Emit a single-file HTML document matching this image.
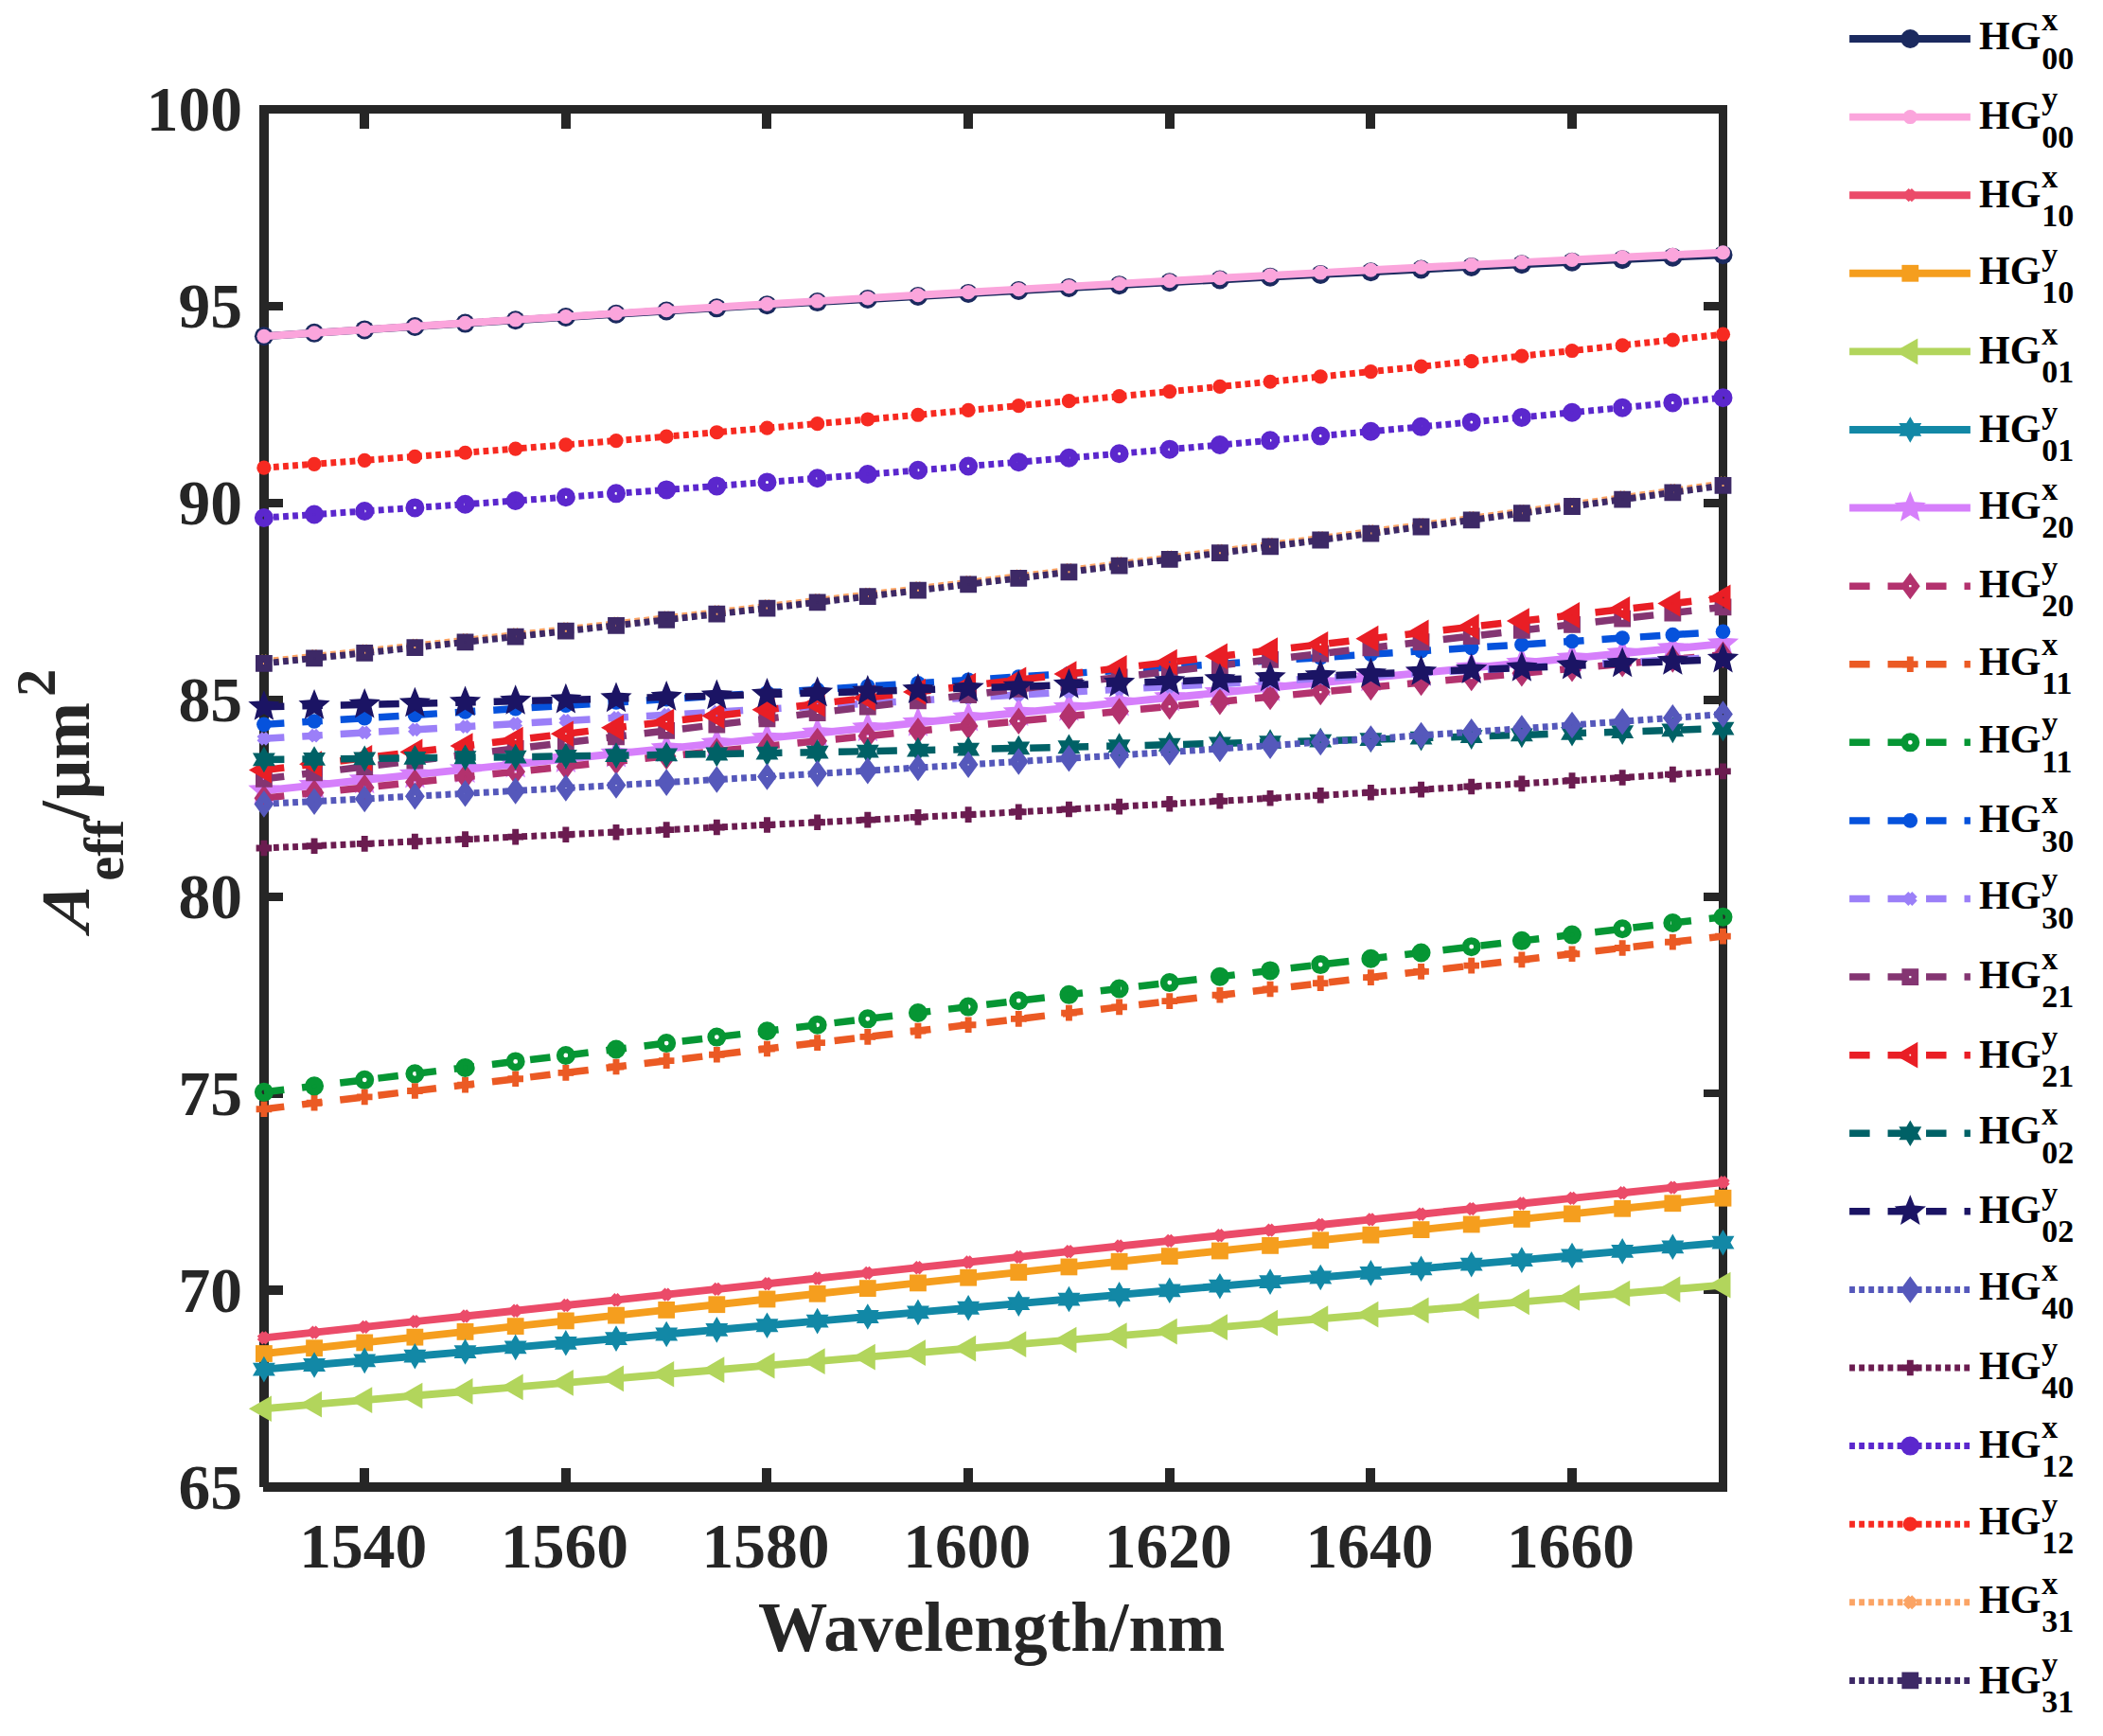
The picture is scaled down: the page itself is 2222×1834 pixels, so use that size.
<!DOCTYPE html>
<html lang="en">
<head>
<meta charset="utf-8">
<title>Effective mode area versus wavelength</title>
<style>html,body{margin:0;padding:0;background:#fff;overflow:hidden}svg{display:block}</style>
</head>
<body>
<svg width="2222" height="1834" viewBox="0 0 2222 1834" role="img" aria-label="Effective mode area versus wavelength for HG modes">
<rect width="2222" height="1834" fill="#fff"/>
<g fill="#262626" shape-rendering="crispEdges">
<rect x="274.05" y="110.9" width="9.7" height="1460.5"/>
<rect x="278.4" y="1566.1" width="1546.4" height="9.8"/>
<rect x="1816.4" y="110.9" width="8.4" height="1465"/>
<rect x="274.05" y="110.9" width="1550.75" height="8.85"/>
<rect x="380.22" y="1551.1" width="10" height="16"/>
<rect x="380.22" y="119" width="10" height="16.8"/>
<rect x="592.85" y="1551.1" width="10" height="16"/>
<rect x="592.85" y="119" width="10" height="16.8"/>
<rect x="805.49" y="1551.1" width="10" height="16"/>
<rect x="805.49" y="119" width="10" height="16.8"/>
<rect x="1018.12" y="1551.1" width="10" height="16"/>
<rect x="1018.12" y="119" width="10" height="16.8"/>
<rect x="1230.76" y="1551.1" width="10" height="16"/>
<rect x="1230.76" y="119" width="10" height="16.8"/>
<rect x="1443.39" y="1551.1" width="10" height="16"/>
<rect x="1443.39" y="119" width="10" height="16.8"/>
<rect x="1656.02" y="1551.1" width="10" height="16"/>
<rect x="1656.02" y="119" width="10" height="16.8"/>
<rect x="283" y="1358.44" width="16.1" height="9.2"/>
<rect x="1800.2" y="1358.64" width="17" height="8.8"/>
<rect x="283" y="1150.49" width="16.1" height="9.2"/>
<rect x="1800.2" y="1150.69" width="17" height="8.8"/>
<rect x="283" y="942.53" width="16.1" height="9.2"/>
<rect x="1800.2" y="942.73" width="17" height="8.8"/>
<rect x="283" y="734.57" width="16.1" height="9.2"/>
<rect x="1800.2" y="734.77" width="17" height="8.8"/>
<rect x="283" y="526.61" width="16.1" height="9.2"/>
<rect x="1800.2" y="526.81" width="17" height="8.8"/>
<rect x="283" y="318.66" width="16.1" height="9.2"/>
<rect x="1800.2" y="318.86" width="17" height="8.8"/>
</g>
<g font-family="'Liberation Serif', 'Times New Roman', serif" font-weight="bold" fill="#262626">
<g font-size="67.5" text-anchor="middle">
<text x="383.82" y="1655.5">1540</text>
<text x="596.45" y="1655.5">1560</text>
<text x="809.09" y="1655.5">1580</text>
<text x="1021.72" y="1655.5">1600</text>
<text x="1234.36" y="1655.5">1620</text>
<text x="1446.99" y="1655.5">1640</text>
<text x="1659.62" y="1655.5">1660</text>
</g>
<g font-size="67.5" text-anchor="end">
<text x="256.1" y="1594">65</text>
<text x="256.1" y="1386.04">70</text>
<text x="256.1" y="1178.09">75</text>
<text x="256.1" y="970.13">80</text>
<text x="256.1" y="762.17">85</text>
<text x="256.1" y="554.21">90</text>
<text x="256.1" y="346.26">95</text>
<text x="256.1" y="138.3">100</text>
</g>
<text x="1047.7" y="1743.8" font-size="73.4" text-anchor="middle">Wavelength/nm</text>
<text transform="translate(93.75,985.5) rotate(-90) skewX(-10)" font-size="73" font-style="italic">A</text>
<text transform="translate(129.5,930.8) rotate(-90)" font-size="58.5">eff</text>
<text transform="translate(93.75,866.5) rotate(-90)" font-size="73">/</text>
<text transform="translate(93.75,844.2) rotate(-90)" font-size="73">μm</text>
<text transform="translate(57.5,736) rotate(-90)" font-size="58.5">2</text>
</g>
<g fill="#1b2a5f">
<path d="M278.9 355.28 L332.06 351.81 L385.22 348.38 L438.38 344.98 L491.53 341.61 L544.69 338.28 L597.85 334.99 L651.01 331.74 L704.17 328.51 L757.33 325.33 L810.49 322.18 L863.64 319.07 L916.8 315.99 L969.96 312.95 L1023.12 309.95 L1076.28 306.98 L1129.44 304.05 L1182.6 301.15 L1235.76 298.29 L1288.91 295.46 L1342.07 292.67 L1395.23 289.92 L1448.39 287.2 L1501.55 284.52 L1554.71 281.88 L1607.87 279.27 L1661.02 276.69 L1714.18 274.16 L1767.34 271.65 L1820.5 269.19" fill="none" stroke="#1b2a5f" stroke-width="7.9" stroke-linejoin="round"/>
<circle cx="278.9" cy="355.28" r="10"/>
<circle cx="332.06" cy="351.81" r="10"/>
<circle cx="385.22" cy="348.38" r="10"/>
<circle cx="438.38" cy="344.98" r="10"/>
<circle cx="491.53" cy="341.61" r="10"/>
<circle cx="544.69" cy="338.28" r="10"/>
<circle cx="597.85" cy="334.99" r="10"/>
<circle cx="651.01" cy="331.74" r="10"/>
<circle cx="704.17" cy="328.51" r="10"/>
<circle cx="757.33" cy="325.33" r="10"/>
<circle cx="810.49" cy="322.18" r="10"/>
<circle cx="863.64" cy="319.07" r="10"/>
<circle cx="916.8" cy="315.99" r="10"/>
<circle cx="969.96" cy="312.95" r="10"/>
<circle cx="1023.12" cy="309.95" r="10"/>
<circle cx="1076.28" cy="306.98" r="10"/>
<circle cx="1129.44" cy="304.05" r="10"/>
<circle cx="1182.6" cy="301.15" r="10"/>
<circle cx="1235.76" cy="298.29" r="10"/>
<circle cx="1288.91" cy="295.46" r="10"/>
<circle cx="1342.07" cy="292.67" r="10"/>
<circle cx="1395.23" cy="289.92" r="10"/>
<circle cx="1448.39" cy="287.2" r="10"/>
<circle cx="1501.55" cy="284.52" r="10"/>
<circle cx="1554.71" cy="281.88" r="10"/>
<circle cx="1607.87" cy="279.27" r="10"/>
<circle cx="1661.02" cy="276.69" r="10"/>
<circle cx="1714.18" cy="274.16" r="10"/>
<circle cx="1767.34" cy="271.65" r="10"/>
<circle cx="1820.5" cy="269.19" r="10"/>
</g>
<g fill="#fba5dc">
<path d="M278.9 355.28 L332.06 351.72 L385.22 348.19 L438.38 344.7 L491.53 341.25 L544.69 337.83 L597.85 334.45 L651.01 331.1 L704.17 327.79 L757.33 324.52 L810.49 321.28 L863.64 318.08 L916.8 314.92 L969.96 311.79 L1023.12 308.7 L1076.28 305.65 L1129.44 302.63 L1182.6 299.64 L1235.76 296.7 L1288.91 293.79 L1342.07 290.92 L1395.23 288.08 L1448.39 285.28 L1501.55 282.51 L1554.71 279.79 L1607.87 277.1 L1661.02 274.44 L1714.18 271.82 L1767.34 269.24 L1820.5 266.69" fill="none" stroke="#fba5dc" stroke-width="7.9" stroke-linejoin="round"/>
<circle cx="278.9" cy="355.28" r="7.5"/>
<circle cx="332.06" cy="351.72" r="7.5"/>
<circle cx="385.22" cy="348.19" r="7.5"/>
<circle cx="438.38" cy="344.7" r="7.5"/>
<circle cx="491.53" cy="341.25" r="7.5"/>
<circle cx="544.69" cy="337.83" r="7.5"/>
<circle cx="597.85" cy="334.45" r="7.5"/>
<circle cx="651.01" cy="331.1" r="7.5"/>
<circle cx="704.17" cy="327.79" r="7.5"/>
<circle cx="757.33" cy="324.52" r="7.5"/>
<circle cx="810.49" cy="321.28" r="7.5"/>
<circle cx="863.64" cy="318.08" r="7.5"/>
<circle cx="916.8" cy="314.92" r="7.5"/>
<circle cx="969.96" cy="311.79" r="7.5"/>
<circle cx="1023.12" cy="308.7" r="7.5"/>
<circle cx="1076.28" cy="305.65" r="7.5"/>
<circle cx="1129.44" cy="302.63" r="7.5"/>
<circle cx="1182.6" cy="299.64" r="7.5"/>
<circle cx="1235.76" cy="296.7" r="7.5"/>
<circle cx="1288.91" cy="293.79" r="7.5"/>
<circle cx="1342.07" cy="290.92" r="7.5"/>
<circle cx="1395.23" cy="288.08" r="7.5"/>
<circle cx="1448.39" cy="285.28" r="7.5"/>
<circle cx="1501.55" cy="282.51" r="7.5"/>
<circle cx="1554.71" cy="279.79" r="7.5"/>
<circle cx="1607.87" cy="277.1" r="7.5"/>
<circle cx="1661.02" cy="274.44" r="7.5"/>
<circle cx="1714.18" cy="271.82" r="7.5"/>
<circle cx="1767.34" cy="269.24" r="7.5"/>
<circle cx="1820.5" cy="266.69" r="7.5"/>
</g>
<g fill="#eb4b69">
<path d="M278.9 1413.37 L332.06 1407.63 L385.22 1401.9 L438.38 1396.17 L491.53 1390.45 L544.69 1384.73 L597.85 1379.02 L651.01 1373.31 L704.17 1367.61 L757.33 1361.92 L810.49 1356.23 L863.64 1350.54 L916.8 1344.86 L969.96 1339.18 L1023.12 1333.51 L1076.28 1327.85 L1129.44 1322.19 L1182.6 1316.53 L1235.76 1310.88 L1288.91 1305.24 L1342.07 1299.6 L1395.23 1293.97 L1448.39 1288.34 L1501.55 1282.71 L1554.71 1277.1 L1607.87 1271.48 L1661.02 1265.88 L1714.18 1260.27 L1767.34 1254.67 L1820.5 1249.08" fill="none" stroke="#eb4b69" stroke-width="7.9" stroke-linejoin="round"/>
<path d="M271.71 1411.76 L277.29 1406.18 L286.09 1414.98 L280.51 1420.56 Z M280.51 1406.18 L286.09 1411.76 L277.29 1420.56 L271.71 1414.98 Z"/>
<path d="M324.87 1406.02 L330.45 1400.44 L339.25 1409.24 L333.67 1414.82 Z M333.67 1400.44 L339.25 1406.02 L330.45 1414.82 L324.87 1409.24 Z"/>
<path d="M378.02 1400.29 L383.61 1394.71 L392.41 1403.51 L386.82 1409.09 Z M386.82 1394.71 L392.41 1400.29 L383.61 1409.09 L378.02 1403.51 Z"/>
<path d="M431.18 1394.56 L436.77 1388.98 L445.57 1397.78 L439.98 1403.36 Z M439.98 1388.98 L445.57 1394.56 L436.77 1403.36 L431.18 1397.78 Z"/>
<path d="M484.34 1388.84 L489.93 1383.26 L498.73 1392.06 L493.14 1397.64 Z M493.14 1383.26 L498.73 1388.84 L489.93 1397.64 L484.34 1392.06 Z"/>
<path d="M537.5 1383.12 L543.09 1377.54 L551.89 1386.34 L546.3 1391.92 Z M546.3 1377.54 L551.89 1383.12 L543.09 1391.92 L537.5 1386.34 Z"/>
<path d="M590.66 1377.41 L596.24 1371.83 L605.04 1380.63 L599.46 1386.21 Z M599.46 1371.83 L605.04 1377.41 L596.24 1386.21 L590.66 1380.63 Z"/>
<path d="M643.82 1371.71 L649.4 1366.12 L658.2 1374.92 L652.62 1380.51 Z M652.62 1366.12 L658.2 1371.71 L649.4 1380.51 L643.82 1374.92 Z"/>
<path d="M696.98 1366.01 L702.56 1360.42 L711.36 1369.22 L705.78 1374.81 Z M705.78 1360.42 L711.36 1366.01 L702.56 1374.81 L696.98 1369.22 Z"/>
<path d="M750.13 1360.31 L755.72 1354.72 L764.52 1363.52 L758.93 1369.11 Z M758.93 1354.72 L764.52 1360.31 L755.72 1369.11 L750.13 1363.52 Z"/>
<path d="M803.29 1354.62 L808.88 1349.03 L817.68 1357.83 L812.09 1363.42 Z M812.09 1349.03 L817.68 1354.62 L808.88 1363.42 L803.29 1357.83 Z"/>
<path d="M856.45 1348.93 L862.04 1343.35 L870.84 1352.15 L865.25 1357.73 Z M865.25 1343.35 L870.84 1348.93 L862.04 1357.73 L856.45 1352.15 Z"/>
<path d="M909.61 1343.25 L915.2 1337.67 L924 1346.47 L918.41 1352.05 Z M918.41 1337.67 L924 1343.25 L915.2 1352.05 L909.61 1346.47 Z"/>
<path d="M962.77 1337.58 L968.36 1331.99 L977.16 1340.79 L971.57 1346.38 Z M971.57 1331.99 L977.16 1337.58 L968.36 1346.38 L962.77 1340.79 Z"/>
<path d="M1015.93 1331.91 L1021.51 1326.32 L1030.31 1335.12 L1024.73 1340.71 Z M1024.73 1326.32 L1030.31 1331.91 L1021.51 1340.71 L1015.93 1335.12 Z"/>
<path d="M1069.09 1326.24 L1074.67 1320.65 L1083.47 1329.45 L1077.89 1335.04 Z M1077.89 1320.65 L1083.47 1326.24 L1074.67 1335.04 L1069.09 1329.45 Z"/>
<path d="M1122.24 1320.58 L1127.83 1314.99 L1136.63 1323.79 L1131.04 1329.38 Z M1131.04 1314.99 L1136.63 1320.58 L1127.83 1329.38 L1122.24 1323.79 Z"/>
<path d="M1175.4 1314.93 L1180.99 1309.34 L1189.79 1318.14 L1184.2 1323.73 Z M1184.2 1309.34 L1189.79 1314.93 L1180.99 1323.73 L1175.4 1318.14 Z"/>
<path d="M1228.56 1309.28 L1234.15 1303.69 L1242.95 1312.49 L1237.36 1318.08 Z M1237.36 1303.69 L1242.95 1309.28 L1234.15 1318.08 L1228.56 1312.49 Z"/>
<path d="M1281.72 1303.63 L1287.31 1298.05 L1296.11 1306.85 L1290.52 1312.43 Z M1290.52 1298.05 L1296.11 1303.63 L1287.31 1312.43 L1281.72 1306.85 Z"/>
<path d="M1334.88 1297.99 L1340.47 1292.41 L1349.27 1301.21 L1343.68 1306.79 Z M1343.68 1292.41 L1349.27 1297.99 L1340.47 1306.79 L1334.88 1301.21 Z"/>
<path d="M1388.04 1292.36 L1393.62 1286.77 L1402.42 1295.57 L1396.84 1301.16 Z M1396.84 1286.77 L1402.42 1292.36 L1393.62 1301.16 L1388.04 1295.57 Z"/>
<path d="M1441.2 1286.73 L1446.78 1281.14 L1455.58 1289.94 L1450 1295.53 Z M1450 1281.14 L1455.58 1286.73 L1446.78 1295.53 L1441.2 1289.94 Z"/>
<path d="M1494.36 1281.11 L1499.94 1275.52 L1508.74 1284.32 L1503.16 1289.91 Z M1503.16 1275.52 L1508.74 1281.11 L1499.94 1289.91 L1494.36 1284.32 Z"/>
<path d="M1547.51 1275.49 L1553.1 1269.9 L1561.9 1278.7 L1556.31 1284.29 Z M1556.31 1269.9 L1561.9 1275.49 L1553.1 1284.29 L1547.51 1278.7 Z"/>
<path d="M1600.67 1269.88 L1606.26 1264.29 L1615.06 1273.09 L1609.47 1278.68 Z M1609.47 1264.29 L1615.06 1269.88 L1606.26 1278.68 L1600.67 1273.09 Z"/>
<path d="M1653.83 1264.27 L1659.42 1258.68 L1668.22 1267.48 L1662.63 1273.07 Z M1662.63 1258.68 L1668.22 1264.27 L1659.42 1273.07 L1653.83 1267.48 Z"/>
<path d="M1706.99 1258.67 L1712.58 1253.08 L1721.38 1261.88 L1715.79 1267.47 Z M1715.79 1253.08 L1721.38 1258.67 L1712.58 1267.47 L1706.99 1261.88 Z"/>
<path d="M1760.15 1253.07 L1765.73 1247.48 L1774.53 1256.28 L1768.95 1261.87 Z M1768.95 1247.48 L1774.53 1253.07 L1765.73 1261.87 L1760.15 1256.28 Z"/>
<path d="M1813.31 1247.48 L1818.89 1241.89 L1827.69 1250.69 L1822.11 1256.28 Z M1822.11 1241.89 L1827.69 1247.48 L1818.89 1256.28 L1813.31 1250.69 Z"/>
</g>
<g fill="#f59e1e">
<path d="M278.9 1430.01 L332.06 1424.21 L385.22 1418.43 L438.38 1412.65 L491.53 1406.89 L544.69 1401.13 L597.85 1395.38 L651.01 1389.65 L704.17 1383.92 L757.33 1378.2 L810.49 1372.49 L863.64 1366.78 L916.8 1361.09 L969.96 1355.41 L1023.12 1349.73 L1076.28 1344.07 L1129.44 1338.41 L1182.6 1332.77 L1235.76 1327.13 L1288.91 1321.5 L1342.07 1315.88 L1395.23 1310.27 L1448.39 1304.67 L1501.55 1299.08 L1554.71 1293.5 L1607.87 1287.92 L1661.02 1282.36 L1714.18 1276.8 L1767.34 1271.26 L1820.5 1265.72" fill="none" stroke="#f59e1e" stroke-width="7.9" stroke-linejoin="round"/>
<path d="M270 1421.11 L287.8 1421.11 L287.8 1438.91 L270 1438.91Z"/>
<path d="M323.16 1415.31 L340.96 1415.31 L340.96 1433.11 L323.16 1433.11Z"/>
<path d="M376.32 1409.53 L394.12 1409.53 L394.12 1427.33 L376.32 1427.33Z"/>
<path d="M429.48 1403.75 L447.28 1403.75 L447.28 1421.55 L429.48 1421.55Z"/>
<path d="M482.63 1397.99 L500.43 1397.99 L500.43 1415.79 L482.63 1415.79Z"/>
<path d="M535.79 1392.23 L553.59 1392.23 L553.59 1410.03 L535.79 1410.03Z"/>
<path d="M588.95 1386.48 L606.75 1386.48 L606.75 1404.28 L588.95 1404.28Z"/>
<path d="M642.11 1380.75 L659.91 1380.75 L659.91 1398.55 L642.11 1398.55Z"/>
<path d="M695.27 1375.02 L713.07 1375.02 L713.07 1392.82 L695.27 1392.82Z"/>
<path d="M748.43 1369.3 L766.23 1369.3 L766.23 1387.1 L748.43 1387.1Z"/>
<path d="M801.59 1363.59 L819.39 1363.59 L819.39 1381.39 L801.59 1381.39Z"/>
<path d="M854.74 1357.88 L872.54 1357.88 L872.54 1375.68 L854.74 1375.68Z"/>
<path d="M907.9 1352.19 L925.7 1352.19 L925.7 1369.99 L907.9 1369.99Z"/>
<path d="M961.06 1346.51 L978.86 1346.51 L978.86 1364.31 L961.06 1364.31Z"/>
<path d="M1014.22 1340.83 L1032.02 1340.83 L1032.02 1358.63 L1014.22 1358.63Z"/>
<path d="M1067.38 1335.17 L1085.18 1335.17 L1085.18 1352.97 L1067.38 1352.97Z"/>
<path d="M1120.54 1329.51 L1138.34 1329.51 L1138.34 1347.31 L1120.54 1347.31Z"/>
<path d="M1173.7 1323.87 L1191.5 1323.87 L1191.5 1341.67 L1173.7 1341.67Z"/>
<path d="M1226.86 1318.23 L1244.66 1318.23 L1244.66 1336.03 L1226.86 1336.03Z"/>
<path d="M1280.01 1312.6 L1297.81 1312.6 L1297.81 1330.4 L1280.01 1330.4Z"/>
<path d="M1333.17 1306.98 L1350.97 1306.98 L1350.97 1324.78 L1333.17 1324.78Z"/>
<path d="M1386.33 1301.37 L1404.13 1301.37 L1404.13 1319.17 L1386.33 1319.17Z"/>
<path d="M1439.49 1295.77 L1457.29 1295.77 L1457.29 1313.57 L1439.49 1313.57Z"/>
<path d="M1492.65 1290.18 L1510.45 1290.18 L1510.45 1307.98 L1492.65 1307.98Z"/>
<path d="M1545.81 1284.6 L1563.61 1284.6 L1563.61 1302.4 L1545.81 1302.4Z"/>
<path d="M1598.97 1279.02 L1616.77 1279.02 L1616.77 1296.82 L1598.97 1296.82Z"/>
<path d="M1652.12 1273.46 L1669.92 1273.46 L1669.92 1291.26 L1652.12 1291.26Z"/>
<path d="M1705.28 1267.9 L1723.08 1267.9 L1723.08 1285.7 L1705.28 1285.7Z"/>
<path d="M1758.44 1262.36 L1776.24 1262.36 L1776.24 1280.16 L1758.44 1280.16Z"/>
<path d="M1811.6 1256.82 L1829.4 1256.82 L1829.4 1274.62 L1811.6 1274.62Z"/>
</g>
<g fill="#b2d55c">
<path d="M278.9 1488.23 L332.06 1483.65 L385.22 1479.08 L438.38 1474.5 L491.53 1469.94 L544.69 1465.38 L597.85 1460.83 L651.01 1456.28 L704.17 1451.74 L757.33 1447.2 L810.49 1442.67 L863.64 1438.14 L916.8 1433.62 L969.96 1429.11 L1023.12 1424.6 L1076.28 1420.09 L1129.44 1415.6 L1182.6 1411.1 L1235.76 1406.62 L1288.91 1402.14 L1342.07 1397.66 L1395.23 1393.19 L1448.39 1388.73 L1501.55 1384.27 L1554.71 1379.82 L1607.87 1375.37 L1661.02 1370.93 L1714.18 1366.49 L1767.34 1362.06 L1820.5 1357.64" fill="none" stroke="#b2d55c" stroke-width="7.9" stroke-linejoin="round"/>
<path d="M262.9 1488.23 L286.9 1474.38 L286.9 1502.09Z"/>
<path d="M316.06 1483.65 L340.06 1469.79 L340.06 1497.51Z"/>
<path d="M369.22 1479.08 L393.22 1465.22 L393.22 1492.93Z"/>
<path d="M422.38 1474.5 L446.38 1460.65 L446.38 1488.36Z"/>
<path d="M475.53 1469.94 L499.53 1456.08 L499.53 1483.8Z"/>
<path d="M528.69 1465.38 L552.69 1451.52 L552.69 1479.24Z"/>
<path d="M581.85 1460.83 L605.85 1446.97 L605.85 1474.68Z"/>
<path d="M635.01 1456.28 L659.01 1442.42 L659.01 1470.13Z"/>
<path d="M688.17 1451.74 L712.17 1437.88 L712.17 1465.59Z"/>
<path d="M741.33 1447.2 L765.33 1433.34 L765.33 1461.06Z"/>
<path d="M794.49 1442.67 L818.49 1428.81 L818.49 1456.52Z"/>
<path d="M847.64 1438.14 L871.64 1424.29 L871.64 1452Z"/>
<path d="M900.8 1433.62 L924.8 1419.77 L924.8 1447.48Z"/>
<path d="M953.96 1429.11 L977.96 1415.25 L977.96 1442.96Z"/>
<path d="M1007.12 1424.6 L1031.12 1410.74 L1031.12 1438.45Z"/>
<path d="M1060.28 1420.09 L1084.28 1406.24 L1084.28 1433.95Z"/>
<path d="M1113.44 1415.6 L1137.44 1401.74 L1137.44 1429.45Z"/>
<path d="M1166.6 1411.1 L1190.6 1397.25 L1190.6 1424.96Z"/>
<path d="M1219.76 1406.62 L1243.76 1392.76 L1243.76 1420.47Z"/>
<path d="M1272.91 1402.14 L1296.91 1388.28 L1296.91 1415.99Z"/>
<path d="M1326.07 1397.66 L1350.07 1383.81 L1350.07 1411.52Z"/>
<path d="M1379.23 1393.19 L1403.23 1379.34 L1403.23 1407.05Z"/>
<path d="M1432.39 1388.73 L1456.39 1374.87 L1456.39 1402.58Z"/>
<path d="M1485.55 1384.27 L1509.55 1370.41 L1509.55 1398.13Z"/>
<path d="M1538.71 1379.82 L1562.71 1365.96 L1562.71 1393.67Z"/>
<path d="M1591.87 1375.37 L1615.87 1361.51 L1615.87 1389.23Z"/>
<path d="M1645.02 1370.93 L1669.02 1357.07 L1669.02 1384.78Z"/>
<path d="M1698.18 1366.49 L1722.18 1352.64 L1722.18 1380.35Z"/>
<path d="M1751.34 1362.06 L1775.34 1348.2 L1775.34 1375.92Z"/>
<path d="M1804.5 1357.64 L1828.5 1343.78 L1828.5 1371.49Z"/>
</g>
<g fill="#1288a6">
<path d="M278.9 1446.64 L332.06 1441.99 L385.22 1437.35 L438.38 1432.7 L491.53 1428.06 L544.69 1423.42 L597.85 1418.78 L651.01 1414.15 L704.17 1409.51 L757.33 1404.88 L810.49 1400.25 L863.64 1395.63 L916.8 1391 L969.96 1386.38 L1023.12 1381.76 L1076.28 1377.14 L1129.44 1372.53 L1182.6 1367.91 L1235.76 1363.3 L1288.91 1358.69 L1342.07 1354.08 L1395.23 1349.48 L1448.39 1344.88 L1501.55 1340.27 L1554.71 1335.68 L1607.87 1331.08 L1661.02 1326.49 L1714.18 1321.89 L1767.34 1317.3 L1820.5 1312.72" fill="none" stroke="#1288a6" stroke-width="7.9" stroke-linejoin="round"/>
<path d="M278.9 1432.84 L282.88 1439.75 L290.85 1439.74 L286.86 1446.64 L290.85 1453.54 L282.88 1453.54 L278.9 1460.44 L274.92 1453.54 L266.95 1453.54 L270.94 1446.64 L266.95 1439.74 L274.92 1439.75Z"/>
<path d="M332.06 1428.19 L336.04 1435.1 L344.01 1435.09 L340.02 1441.99 L344.01 1448.89 L336.04 1448.89 L332.06 1455.79 L328.08 1448.89 L320.11 1448.89 L324.1 1441.99 L320.11 1435.09 L328.08 1435.1Z"/>
<path d="M385.22 1423.55 L389.2 1430.45 L397.17 1430.45 L393.18 1437.35 L397.17 1444.25 L389.2 1444.24 L385.22 1451.15 L381.24 1444.24 L373.27 1444.25 L377.25 1437.35 L373.27 1430.45 L381.24 1430.45Z"/>
<path d="M438.38 1418.9 L442.36 1425.81 L450.33 1425.8 L446.34 1432.7 L450.33 1439.6 L442.36 1439.6 L438.38 1446.5 L434.39 1439.6 L426.42 1439.6 L430.41 1432.7 L426.42 1425.8 L434.39 1425.81Z"/>
<path d="M491.53 1414.26 L495.52 1421.16 L503.49 1421.16 L499.5 1428.06 L503.49 1434.96 L495.52 1434.96 L491.53 1441.86 L487.55 1434.96 L479.58 1434.96 L483.57 1428.06 L479.58 1421.16 L487.55 1421.16Z"/>
<path d="M544.69 1409.62 L548.67 1416.52 L556.64 1416.52 L552.66 1423.42 L556.64 1430.32 L548.67 1430.32 L544.69 1437.22 L540.71 1430.32 L532.74 1430.32 L536.73 1423.42 L532.74 1416.52 L540.71 1416.52Z"/>
<path d="M597.85 1404.98 L601.83 1411.89 L609.8 1411.88 L605.81 1418.78 L609.8 1425.68 L601.83 1425.68 L597.85 1432.58 L593.87 1425.68 L585.9 1425.68 L589.89 1418.78 L585.9 1411.88 L593.87 1411.89Z"/>
<path d="M651.01 1400.35 L654.99 1407.25 L662.96 1407.25 L658.97 1414.15 L662.96 1421.05 L654.99 1421.04 L651.01 1427.95 L647.03 1421.04 L639.06 1421.05 L643.05 1414.15 L639.06 1407.25 L647.03 1407.25Z"/>
<path d="M704.17 1395.71 L708.15 1402.62 L716.12 1402.61 L712.13 1409.51 L716.12 1416.41 L708.15 1416.41 L704.17 1423.31 L700.19 1416.41 L692.22 1416.41 L696.21 1409.51 L692.22 1402.61 L700.19 1402.62Z"/>
<path d="M757.33 1391.08 L761.31 1397.99 L769.28 1397.98 L765.29 1404.88 L769.28 1411.78 L761.31 1411.78 L757.33 1418.68 L753.35 1411.78 L745.38 1411.78 L749.36 1404.88 L745.38 1397.98 L753.35 1397.99Z"/>
<path d="M810.49 1386.45 L814.47 1393.36 L822.44 1393.35 L818.45 1400.25 L822.44 1407.15 L814.47 1407.15 L810.49 1414.05 L806.5 1407.15 L798.54 1407.15 L802.52 1400.25 L798.54 1393.35 L806.5 1393.36Z"/>
<path d="M863.64 1381.83 L867.63 1388.73 L875.6 1388.73 L871.61 1395.63 L875.6 1402.53 L867.63 1402.52 L863.64 1409.43 L859.66 1402.52 L851.69 1402.53 L855.68 1395.63 L851.69 1388.73 L859.66 1388.73Z"/>
<path d="M916.8 1377.2 L920.78 1384.11 L928.75 1384.1 L924.77 1391 L928.75 1397.9 L920.78 1397.9 L916.8 1404.8 L912.82 1397.9 L904.85 1397.9 L908.84 1391 L904.85 1384.1 L912.82 1384.11Z"/>
<path d="M969.96 1372.58 L973.94 1379.48 L981.91 1379.48 L977.92 1386.38 L981.91 1393.28 L973.94 1393.28 L969.96 1400.18 L965.98 1393.28 L958.01 1393.28 L962 1386.38 L958.01 1379.48 L965.98 1379.48Z"/>
<path d="M1023.12 1367.96 L1027.1 1374.86 L1035.07 1374.86 L1031.08 1381.76 L1035.07 1388.66 L1027.1 1388.65 L1023.12 1395.56 L1019.14 1388.65 L1011.17 1388.66 L1015.16 1381.76 L1011.17 1374.86 L1019.14 1374.86Z"/>
<path d="M1076.28 1363.34 L1080.26 1370.25 L1088.23 1370.24 L1084.24 1377.14 L1088.23 1384.04 L1080.26 1384.04 L1076.28 1390.94 L1072.3 1384.04 L1064.33 1384.04 L1068.32 1377.14 L1064.33 1370.24 L1072.3 1370.25Z"/>
<path d="M1129.44 1358.73 L1133.42 1365.63 L1141.39 1365.63 L1137.4 1372.53 L1141.39 1379.43 L1133.42 1379.42 L1129.44 1386.33 L1125.46 1379.42 L1117.49 1379.43 L1121.48 1372.53 L1117.49 1365.63 L1125.46 1365.63Z"/>
<path d="M1182.6 1354.11 L1186.58 1361.02 L1194.55 1361.01 L1190.56 1367.91 L1194.55 1374.81 L1186.58 1374.81 L1182.6 1381.71 L1178.62 1374.81 L1170.65 1374.81 L1174.63 1367.91 L1170.65 1361.01 L1178.62 1361.02Z"/>
<path d="M1235.76 1349.5 L1239.74 1356.4 L1247.71 1356.4 L1243.72 1363.3 L1247.71 1370.2 L1239.74 1370.2 L1235.76 1377.1 L1231.77 1370.2 L1223.8 1370.2 L1227.79 1363.3 L1223.8 1356.4 L1231.77 1356.4Z"/>
<path d="M1288.91 1344.89 L1292.9 1351.79 L1300.86 1351.79 L1296.88 1358.69 L1300.86 1365.59 L1292.9 1365.59 L1288.91 1372.49 L1284.93 1365.59 L1276.96 1365.59 L1280.95 1358.69 L1276.96 1351.79 L1284.93 1351.79Z"/>
<path d="M1342.07 1340.28 L1346.05 1347.19 L1354.02 1347.18 L1350.04 1354.08 L1354.02 1360.98 L1346.05 1360.98 L1342.07 1367.88 L1338.09 1360.98 L1330.12 1360.98 L1334.11 1354.08 L1330.12 1347.18 L1338.09 1347.19Z"/>
<path d="M1395.23 1335.68 L1399.21 1342.58 L1407.18 1342.58 L1403.19 1349.48 L1407.18 1356.38 L1399.21 1356.37 L1395.23 1363.28 L1391.25 1356.37 L1383.28 1356.38 L1387.27 1349.48 L1383.28 1342.58 L1391.25 1342.58Z"/>
<path d="M1448.39 1331.08 L1452.37 1337.98 L1460.34 1337.98 L1456.35 1344.88 L1460.34 1351.78 L1452.37 1351.77 L1448.39 1358.68 L1444.41 1351.77 L1436.44 1351.78 L1440.43 1344.88 L1436.44 1337.98 L1444.41 1337.98Z"/>
<path d="M1501.55 1326.47 L1505.53 1333.38 L1513.5 1333.37 L1509.51 1340.27 L1513.5 1347.17 L1505.53 1347.17 L1501.55 1354.07 L1497.57 1347.17 L1489.6 1347.17 L1493.59 1340.27 L1489.6 1333.37 L1497.57 1333.38Z"/>
<path d="M1554.71 1321.88 L1558.69 1328.78 L1566.66 1328.78 L1562.67 1335.68 L1566.66 1342.58 L1558.69 1342.57 L1554.71 1349.48 L1550.73 1342.57 L1542.76 1342.58 L1546.74 1335.68 L1542.76 1328.78 L1550.73 1328.78Z"/>
<path d="M1607.87 1317.28 L1611.85 1324.18 L1619.82 1324.18 L1615.83 1331.08 L1619.82 1337.98 L1611.85 1337.98 L1607.87 1344.88 L1603.88 1337.98 L1595.91 1337.98 L1599.9 1331.08 L1595.91 1324.18 L1603.88 1324.18Z"/>
<path d="M1661.02 1312.69 L1665.01 1319.59 L1672.98 1319.59 L1668.99 1326.49 L1672.98 1333.39 L1665.01 1333.38 L1661.02 1340.29 L1657.04 1333.38 L1649.07 1333.39 L1653.06 1326.49 L1649.07 1319.59 L1657.04 1319.59Z"/>
<path d="M1714.18 1308.09 L1718.16 1315 L1726.13 1314.99 L1722.15 1321.89 L1726.13 1328.79 L1718.16 1328.79 L1714.18 1335.69 L1710.2 1328.79 L1702.23 1328.79 L1706.22 1321.89 L1702.23 1314.99 L1710.2 1315Z"/>
<path d="M1767.34 1303.5 L1771.32 1310.41 L1779.29 1310.4 L1775.3 1317.3 L1779.29 1324.2 L1771.32 1324.2 L1767.34 1331.1 L1763.36 1324.2 L1755.39 1324.2 L1759.38 1317.3 L1755.39 1310.4 L1763.36 1310.41Z"/>
<path d="M1820.5 1298.92 L1824.48 1305.82 L1832.45 1305.82 L1828.46 1312.72 L1832.45 1319.62 L1824.48 1319.61 L1820.5 1326.52 L1816.52 1319.61 L1808.55 1319.62 L1812.54 1312.72 L1808.55 1305.82 L1816.52 1305.82Z"/>
</g>
<g fill="#d67ffb">
<path d="M278.9 835.25 L332.06 829.62 L385.22 824.02 L438.38 818.44 L491.53 812.87 L544.69 807.33 L597.85 801.8 L651.01 796.3 L704.17 790.81 L757.33 785.34 L810.49 779.9 L863.64 774.47 L916.8 769.06 L969.96 763.67 L1023.12 758.3 L1076.28 752.95 L1129.44 747.62 L1182.6 742.31 L1235.76 737.02 L1288.91 731.75 L1342.07 726.5 L1395.23 721.27 L1448.39 716.05 L1501.55 710.86 L1554.71 705.69 L1607.87 700.53 L1661.02 695.4 L1714.18 690.28 L1767.34 685.19 L1820.5 680.11" fill="none" stroke="#d67ffb" stroke-width="7.9" stroke-linejoin="round"/>
<path d="M278.9 817.75 L283.43 829.02 L295.54 829.84 L286.22 837.63 L289.19 849.41 L278.9 842.95 L268.61 849.41 L271.58 837.63 L262.26 829.84 L274.37 829.02Z"/>
<path d="M332.06 812.12 L336.58 823.4 L348.7 824.22 L339.38 832 L342.34 843.78 L332.06 837.32 L321.77 843.78 L324.74 832 L315.42 824.22 L327.53 823.4Z"/>
<path d="M385.22 806.52 L389.74 817.79 L401.86 818.61 L392.54 826.4 L395.5 838.18 L385.22 831.72 L374.93 838.18 L377.89 826.4 L368.57 818.61 L380.69 817.79Z"/>
<path d="M438.38 800.94 L442.9 812.21 L455.02 813.03 L445.7 820.82 L448.66 832.6 L438.38 826.14 L428.09 832.6 L431.05 820.82 L421.73 813.03 L433.85 812.21Z"/>
<path d="M491.53 795.37 L496.06 806.64 L508.18 807.47 L498.86 815.25 L501.82 827.03 L491.53 820.57 L481.25 827.03 L484.21 815.25 L474.89 807.47 L487.01 806.64Z"/>
<path d="M544.69 789.83 L549.22 801.1 L561.34 801.92 L552.02 809.71 L554.98 821.49 L544.69 815.03 L534.41 821.49 L537.37 809.71 L528.05 801.92 L540.17 801.1Z"/>
<path d="M597.85 784.3 L602.38 795.57 L614.5 796.39 L605.17 804.18 L608.14 815.96 L597.85 809.5 L587.57 815.96 L590.53 804.18 L581.21 796.39 L593.33 795.57Z"/>
<path d="M651.01 778.8 L655.54 790.07 L667.65 790.89 L658.33 798.68 L661.3 810.45 L651.01 804 L640.72 810.45 L643.69 798.68 L634.37 790.89 L646.48 790.07Z"/>
<path d="M704.17 773.31 L708.69 784.58 L720.81 785.4 L711.49 793.19 L714.46 804.97 L704.17 798.51 L693.88 804.97 L696.85 793.19 L687.53 785.4 L699.64 784.58Z"/>
<path d="M757.33 767.84 L761.85 779.11 L773.97 779.94 L764.65 787.72 L767.61 799.5 L757.33 793.04 L747.04 799.5 L750 787.72 L740.68 779.94 L752.8 779.11Z"/>
<path d="M810.49 762.4 L815.01 773.67 L827.13 774.49 L817.81 782.28 L820.77 794.05 L810.49 787.6 L800.2 794.05 L803.16 782.28 L793.84 774.49 L805.96 773.67Z"/>
<path d="M863.64 756.97 L868.17 768.24 L880.29 769.06 L870.97 776.85 L873.93 788.63 L863.64 782.17 L853.36 788.63 L856.32 776.85 L847 769.06 L859.12 768.24Z"/>
<path d="M916.8 751.56 L921.33 762.83 L933.45 763.65 L924.13 771.44 L927.09 783.22 L916.8 776.76 L906.52 783.22 L909.48 771.44 L900.16 763.65 L912.28 762.83Z"/>
<path d="M969.96 746.17 L974.49 757.44 L986.61 758.26 L977.29 766.05 L980.25 777.83 L969.96 771.37 L959.68 777.83 L962.64 766.05 L953.32 758.26 L965.44 757.44Z"/>
<path d="M1023.12 740.8 L1027.65 752.07 L1039.76 752.9 L1030.44 760.68 L1033.41 772.46 L1023.12 766 L1012.83 772.46 L1015.8 760.68 L1006.48 752.9 L1018.59 752.07Z"/>
<path d="M1076.28 735.45 L1080.81 746.72 L1092.92 747.55 L1083.6 755.33 L1086.57 767.11 L1076.28 760.65 L1065.99 767.11 L1068.96 755.33 L1059.64 747.55 L1071.75 746.72Z"/>
<path d="M1129.44 730.12 L1133.96 741.39 L1146.08 742.22 L1136.76 750 L1139.72 761.78 L1129.44 755.32 L1119.15 761.78 L1122.11 750 L1112.79 742.22 L1124.91 741.39Z"/>
<path d="M1182.6 724.81 L1187.12 736.08 L1199.24 736.91 L1189.92 744.69 L1192.88 756.47 L1182.6 750.01 L1172.31 756.47 L1175.27 744.69 L1165.95 736.91 L1178.07 736.08Z"/>
<path d="M1235.76 719.52 L1240.28 730.79 L1252.4 731.61 L1243.08 739.4 L1246.04 751.18 L1235.76 744.72 L1225.47 751.18 L1228.43 739.4 L1219.11 731.61 L1231.23 730.79Z"/>
<path d="M1288.91 714.25 L1293.44 725.52 L1305.56 726.34 L1296.24 734.13 L1299.2 745.91 L1288.91 739.45 L1278.63 745.91 L1281.59 734.13 L1272.27 726.34 L1284.39 725.52Z"/>
<path d="M1342.07 709 L1346.6 720.27 L1358.72 721.09 L1349.4 728.88 L1352.36 740.66 L1342.07 734.2 L1331.79 740.66 L1334.75 728.88 L1325.43 721.09 L1337.55 720.27Z"/>
<path d="M1395.23 703.77 L1399.76 715.04 L1411.87 715.86 L1402.55 723.65 L1405.52 735.42 L1395.23 728.97 L1384.94 735.42 L1387.91 723.65 L1378.59 715.86 L1390.71 715.04Z"/>
<path d="M1448.39 698.55 L1452.92 709.82 L1465.03 710.65 L1455.71 718.43 L1458.68 730.21 L1448.39 723.75 L1438.1 730.21 L1441.07 718.43 L1431.75 710.65 L1443.86 709.82Z"/>
<path d="M1501.55 693.36 L1506.07 704.63 L1518.19 705.45 L1508.87 713.24 L1511.83 725.02 L1501.55 718.56 L1491.26 725.02 L1494.23 713.24 L1484.9 705.45 L1497.02 704.63Z"/>
<path d="M1554.71 688.19 L1559.23 699.46 L1571.35 700.28 L1562.03 708.07 L1564.99 719.85 L1554.71 713.39 L1544.42 719.85 L1547.38 708.07 L1538.06 700.28 L1550.18 699.46Z"/>
<path d="M1607.87 683.03 L1612.39 694.3 L1624.51 695.13 L1615.19 702.91 L1618.15 714.69 L1607.87 708.23 L1597.58 714.69 L1600.54 702.91 L1591.22 695.13 L1603.34 694.3Z"/>
<path d="M1661.02 677.9 L1665.55 689.17 L1677.67 689.99 L1668.35 697.78 L1671.31 709.56 L1661.02 703.1 L1650.74 709.56 L1653.7 697.78 L1644.38 689.99 L1656.5 689.17Z"/>
<path d="M1714.18 672.78 L1718.71 684.05 L1730.83 684.88 L1721.51 692.66 L1724.47 704.44 L1714.18 697.98 L1703.9 704.44 L1706.86 692.66 L1697.54 684.88 L1709.66 684.05Z"/>
<path d="M1767.34 667.69 L1771.87 678.96 L1783.98 679.78 L1774.66 687.57 L1777.63 699.35 L1767.34 692.89 L1757.06 699.35 L1760.02 687.57 L1750.7 679.78 L1762.82 678.96Z"/>
<path d="M1820.5 662.61 L1825.03 673.88 L1837.14 674.7 L1827.82 682.49 L1830.79 694.27 L1820.5 687.81 L1810.21 694.27 L1813.18 682.49 L1803.86 674.7 L1815.97 673.88Z"/>
</g>
<g fill="#b3326e">
<path d="M278.9 843.15 L332.06 837.53 L385.22 831.93 L438.38 826.36 L491.53 820.83 L544.69 815.32 L597.85 809.84 L651.01 804.39 L704.17 798.97 L757.33 793.57 L810.49 788.21 L863.64 782.87 L916.8 777.57 L969.96 772.29 L1023.12 767.04 L1076.28 761.82 L1129.44 756.63 L1182.6 751.46 L1235.76 746.33 L1288.91 741.22 L1342.07 736.15 L1395.23 731.1 L1448.39 726.08 L1501.55 721.09 L1554.71 716.13 L1607.87 711.2 L1661.02 706.29 L1714.18 701.42 L1767.34 696.57 L1820.5 691.76" fill="none" stroke="#b3326e" stroke-width="7.5" stroke-dasharray="21.5 18.97" stroke-linejoin="round"/>
<path fill-rule="evenodd" d="M278.9 828.95 L289.3 843.15 L278.9 857.35 L268.5 843.15Z M277.7 841.95h2.4v2.4h-2.4Z"/>
<path fill-rule="evenodd" d="M332.06 823.33 L342.46 837.53 L332.06 851.73 L321.66 837.53Z M330.86 836.33h2.4v2.4h-2.4Z"/>
<path fill-rule="evenodd" d="M385.22 817.73 L395.62 831.93 L385.22 846.13 L374.82 831.93Z M384.02 830.73h2.4v2.4h-2.4Z"/>
<path fill-rule="evenodd" d="M438.38 812.16 L448.78 826.36 L438.38 840.56 L427.98 826.36Z M437.18 825.16h2.4v2.4h-2.4Z"/>
<path fill-rule="evenodd" d="M491.53 806.63 L501.93 820.83 L491.53 835.03 L481.13 820.83Z M490.33 819.63h2.4v2.4h-2.4Z"/>
<path fill-rule="evenodd" d="M544.69 801.12 L555.09 815.32 L544.69 829.52 L534.29 815.32Z M543.49 814.12h2.4v2.4h-2.4Z"/>
<path fill-rule="evenodd" d="M597.85 795.64 L608.25 809.84 L597.85 824.04 L587.45 809.84Z M596.65 808.64h2.4v2.4h-2.4Z"/>
<path fill-rule="evenodd" d="M651.01 790.19 L661.41 804.39 L651.01 818.59 L640.61 804.39Z M649.81 803.19h2.4v2.4h-2.4Z"/>
<path fill-rule="evenodd" d="M704.17 784.77 L714.57 798.97 L704.17 813.17 L693.77 798.97Z M702.97 797.77h2.4v2.4h-2.4Z"/>
<path fill-rule="evenodd" d="M757.33 779.37 L767.73 793.57 L757.33 807.77 L746.93 793.57Z M756.13 792.37h2.4v2.4h-2.4Z"/>
<path fill-rule="evenodd" d="M810.49 774.01 L820.89 788.21 L810.49 802.41 L800.09 788.21Z M809.29 787.01h2.4v2.4h-2.4Z"/>
<path fill-rule="evenodd" d="M863.64 768.67 L874.04 782.87 L863.64 797.07 L853.24 782.87Z M862.44 781.67h2.4v2.4h-2.4Z"/>
<path fill-rule="evenodd" d="M916.8 763.37 L927.2 777.57 L916.8 791.77 L906.4 777.57Z M915.6 776.37h2.4v2.4h-2.4Z"/>
<path fill-rule="evenodd" d="M969.96 758.09 L980.36 772.29 L969.96 786.49 L959.56 772.29Z M968.76 771.09h2.4v2.4h-2.4Z"/>
<path fill-rule="evenodd" d="M1023.12 752.84 L1033.52 767.04 L1023.12 781.24 L1012.72 767.04Z M1021.92 765.84h2.4v2.4h-2.4Z"/>
<path fill-rule="evenodd" d="M1076.28 747.62 L1086.68 761.82 L1076.28 776.02 L1065.88 761.82Z M1075.08 760.62h2.4v2.4h-2.4Z"/>
<path fill-rule="evenodd" d="M1129.44 742.43 L1139.84 756.63 L1129.44 770.83 L1119.04 756.63Z M1128.24 755.43h2.4v2.4h-2.4Z"/>
<path fill-rule="evenodd" d="M1182.6 737.26 L1193 751.46 L1182.6 765.66 L1172.2 751.46Z M1181.4 750.26h2.4v2.4h-2.4Z"/>
<path fill-rule="evenodd" d="M1235.76 732.13 L1246.16 746.33 L1235.76 760.53 L1225.36 746.33Z M1234.56 745.13h2.4v2.4h-2.4Z"/>
<path fill-rule="evenodd" d="M1288.91 727.02 L1299.31 741.22 L1288.91 755.42 L1278.51 741.22Z M1287.71 740.02h2.4v2.4h-2.4Z"/>
<path fill-rule="evenodd" d="M1342.07 721.95 L1352.47 736.15 L1342.07 750.35 L1331.67 736.15Z M1340.87 734.95h2.4v2.4h-2.4Z"/>
<path fill-rule="evenodd" d="M1395.23 716.9 L1405.63 731.1 L1395.23 745.3 L1384.83 731.1Z M1394.03 729.9h2.4v2.4h-2.4Z"/>
<path fill-rule="evenodd" d="M1448.39 711.88 L1458.79 726.08 L1448.39 740.28 L1437.99 726.08Z M1447.19 724.88h2.4v2.4h-2.4Z"/>
<path fill-rule="evenodd" d="M1501.55 706.89 L1511.95 721.09 L1501.55 735.29 L1491.15 721.09Z M1500.35 719.89h2.4v2.4h-2.4Z"/>
<path fill-rule="evenodd" d="M1554.71 701.93 L1565.11 716.13 L1554.71 730.33 L1544.31 716.13Z M1553.51 714.93h2.4v2.4h-2.4Z"/>
<path fill-rule="evenodd" d="M1607.87 697 L1618.27 711.2 L1607.87 725.4 L1597.47 711.2Z M1606.67 710h2.4v2.4h-2.4Z"/>
<path fill-rule="evenodd" d="M1661.02 692.09 L1671.42 706.29 L1661.02 720.49 L1650.62 706.29Z M1659.82 705.09h2.4v2.4h-2.4Z"/>
<path fill-rule="evenodd" d="M1714.18 687.22 L1724.58 701.42 L1714.18 715.62 L1703.78 701.42Z M1712.98 700.22h2.4v2.4h-2.4Z"/>
<path fill-rule="evenodd" d="M1767.34 682.37 L1777.74 696.57 L1767.34 710.77 L1756.94 696.57Z M1766.14 695.37h2.4v2.4h-2.4Z"/>
<path fill-rule="evenodd" d="M1820.5 677.56 L1830.9 691.76 L1820.5 705.96 L1810.1 691.76Z M1819.3 690.56h2.4v2.4h-2.4Z"/>
</g>
<g fill="#eb5a24">
<path d="M278.9 1171.72 L332.06 1165.31 L385.22 1158.91 L438.38 1152.51 L491.53 1146.13 L544.69 1139.75 L597.85 1133.38 L651.01 1127.02 L704.17 1120.67 L757.33 1114.32 L810.49 1107.98 L863.64 1101.65 L916.8 1095.33 L969.96 1089.02 L1023.12 1082.72 L1076.28 1076.42 L1129.44 1070.13 L1182.6 1063.85 L1235.76 1057.58 L1288.91 1051.32 L1342.07 1045.06 L1395.23 1038.82 L1448.39 1032.58 L1501.55 1026.35 L1554.71 1020.12 L1607.87 1013.91 L1661.02 1007.7 L1714.18 1001.51 L1767.34 995.32 L1820.5 989.14" fill="none" stroke="#eb5a24" stroke-width="7.5" stroke-dasharray="21.5 18.97" stroke-linejoin="round"/>
<path d="M275.45 1163.42 L282.35 1163.42 L282.35 1168.27 L287.2 1168.27 L287.2 1175.17 L282.35 1175.17 L282.35 1180.02 L275.45 1180.02 L275.45 1175.17 L270.6 1175.17 L270.6 1168.27 L275.45 1168.27Z"/>
<path d="M328.61 1157.01 L335.51 1157.01 L335.51 1161.86 L340.36 1161.86 L340.36 1168.76 L335.51 1168.76 L335.51 1173.61 L328.61 1173.61 L328.61 1168.76 L323.76 1168.76 L323.76 1161.86 L328.61 1161.86Z"/>
<path d="M381.77 1150.61 L388.67 1150.61 L388.67 1155.46 L393.52 1155.46 L393.52 1162.36 L388.67 1162.36 L388.67 1167.21 L381.77 1167.21 L381.77 1162.36 L376.92 1162.36 L376.92 1155.46 L381.77 1155.46Z"/>
<path d="M434.93 1144.21 L441.83 1144.21 L441.83 1149.06 L446.68 1149.06 L446.68 1155.96 L441.83 1155.96 L441.83 1160.81 L434.93 1160.81 L434.93 1155.96 L430.08 1155.96 L430.08 1149.06 L434.93 1149.06Z"/>
<path d="M488.08 1137.83 L494.98 1137.83 L494.98 1142.68 L499.83 1142.68 L499.83 1149.58 L494.98 1149.58 L494.98 1154.43 L488.08 1154.43 L488.08 1149.58 L483.23 1149.58 L483.23 1142.68 L488.08 1142.68Z"/>
<path d="M541.24 1131.45 L548.14 1131.45 L548.14 1136.3 L552.99 1136.3 L552.99 1143.2 L548.14 1143.2 L548.14 1148.05 L541.24 1148.05 L541.24 1143.2 L536.39 1143.2 L536.39 1136.3 L541.24 1136.3Z"/>
<path d="M594.4 1125.08 L601.3 1125.08 L601.3 1129.93 L606.15 1129.93 L606.15 1136.83 L601.3 1136.83 L601.3 1141.68 L594.4 1141.68 L594.4 1136.83 L589.55 1136.83 L589.55 1129.93 L594.4 1129.93Z"/>
<path d="M647.56 1118.72 L654.46 1118.72 L654.46 1123.57 L659.31 1123.57 L659.31 1130.47 L654.46 1130.47 L654.46 1135.32 L647.56 1135.32 L647.56 1130.47 L642.71 1130.47 L642.71 1123.57 L647.56 1123.57Z"/>
<path d="M700.72 1112.37 L707.62 1112.37 L707.62 1117.22 L712.47 1117.22 L712.47 1124.12 L707.62 1124.12 L707.62 1128.97 L700.72 1128.97 L700.72 1124.12 L695.87 1124.12 L695.87 1117.22 L700.72 1117.22Z"/>
<path d="M753.88 1106.02 L760.78 1106.02 L760.78 1110.87 L765.63 1110.87 L765.63 1117.77 L760.78 1117.77 L760.78 1122.62 L753.88 1122.62 L753.88 1117.77 L749.03 1117.77 L749.03 1110.87 L753.88 1110.87Z"/>
<path d="M807.04 1099.68 L813.94 1099.68 L813.94 1104.53 L818.79 1104.53 L818.79 1111.43 L813.94 1111.43 L813.94 1116.28 L807.04 1116.28 L807.04 1111.43 L802.19 1111.43 L802.19 1104.53 L807.04 1104.53Z"/>
<path d="M860.19 1093.35 L867.09 1093.35 L867.09 1098.2 L871.94 1098.2 L871.94 1105.1 L867.09 1105.1 L867.09 1109.95 L860.19 1109.95 L860.19 1105.1 L855.34 1105.1 L855.34 1098.2 L860.19 1098.2Z"/>
<path d="M913.35 1087.03 L920.25 1087.03 L920.25 1091.88 L925.1 1091.88 L925.1 1098.78 L920.25 1098.78 L920.25 1103.63 L913.35 1103.63 L913.35 1098.78 L908.5 1098.78 L908.5 1091.88 L913.35 1091.88Z"/>
<path d="M966.51 1080.72 L973.41 1080.72 L973.41 1085.57 L978.26 1085.57 L978.26 1092.47 L973.41 1092.47 L973.41 1097.32 L966.51 1097.32 L966.51 1092.47 L961.66 1092.47 L961.66 1085.57 L966.51 1085.57Z"/>
<path d="M1019.67 1074.42 L1026.57 1074.42 L1026.57 1079.27 L1031.42 1079.27 L1031.42 1086.17 L1026.57 1086.17 L1026.57 1091.02 L1019.67 1091.02 L1019.67 1086.17 L1014.82 1086.17 L1014.82 1079.27 L1019.67 1079.27Z"/>
<path d="M1072.83 1068.12 L1079.73 1068.12 L1079.73 1072.97 L1084.58 1072.97 L1084.58 1079.87 L1079.73 1079.87 L1079.73 1084.72 L1072.83 1084.72 L1072.83 1079.87 L1067.98 1079.87 L1067.98 1072.97 L1072.83 1072.97Z"/>
<path d="M1125.99 1061.83 L1132.89 1061.83 L1132.89 1066.68 L1137.74 1066.68 L1137.74 1073.58 L1132.89 1073.58 L1132.89 1078.43 L1125.99 1078.43 L1125.99 1073.58 L1121.14 1073.58 L1121.14 1066.68 L1125.99 1066.68Z"/>
<path d="M1179.15 1055.55 L1186.05 1055.55 L1186.05 1060.4 L1190.9 1060.4 L1190.9 1067.3 L1186.05 1067.3 L1186.05 1072.15 L1179.15 1072.15 L1179.15 1067.3 L1174.3 1067.3 L1174.3 1060.4 L1179.15 1060.4Z"/>
<path d="M1232.31 1049.28 L1239.21 1049.28 L1239.21 1054.13 L1244.06 1054.13 L1244.06 1061.03 L1239.21 1061.03 L1239.21 1065.88 L1232.31 1065.88 L1232.31 1061.03 L1227.46 1061.03 L1227.46 1054.13 L1232.31 1054.13Z"/>
<path d="M1285.46 1043.02 L1292.36 1043.02 L1292.36 1047.87 L1297.21 1047.87 L1297.21 1054.77 L1292.36 1054.77 L1292.36 1059.62 L1285.46 1059.62 L1285.46 1054.77 L1280.61 1054.77 L1280.61 1047.87 L1285.46 1047.87Z"/>
<path d="M1338.62 1036.76 L1345.52 1036.76 L1345.52 1041.61 L1350.37 1041.61 L1350.37 1048.51 L1345.52 1048.51 L1345.52 1053.36 L1338.62 1053.36 L1338.62 1048.51 L1333.77 1048.51 L1333.77 1041.61 L1338.62 1041.61Z"/>
<path d="M1391.78 1030.52 L1398.68 1030.52 L1398.68 1035.37 L1403.53 1035.37 L1403.53 1042.27 L1398.68 1042.27 L1398.68 1047.12 L1391.78 1047.12 L1391.78 1042.27 L1386.93 1042.27 L1386.93 1035.37 L1391.78 1035.37Z"/>
<path d="M1444.94 1024.28 L1451.84 1024.28 L1451.84 1029.13 L1456.69 1029.13 L1456.69 1036.03 L1451.84 1036.03 L1451.84 1040.88 L1444.94 1040.88 L1444.94 1036.03 L1440.09 1036.03 L1440.09 1029.13 L1444.94 1029.13Z"/>
<path d="M1498.1 1018.05 L1505 1018.05 L1505 1022.9 L1509.85 1022.9 L1509.85 1029.8 L1505 1029.8 L1505 1034.65 L1498.1 1034.65 L1498.1 1029.8 L1493.25 1029.8 L1493.25 1022.9 L1498.1 1022.9Z"/>
<path d="M1551.26 1011.82 L1558.16 1011.82 L1558.16 1016.67 L1563.01 1016.67 L1563.01 1023.57 L1558.16 1023.57 L1558.16 1028.42 L1551.26 1028.42 L1551.26 1023.57 L1546.41 1023.57 L1546.41 1016.67 L1551.26 1016.67Z"/>
<path d="M1604.42 1005.61 L1611.32 1005.61 L1611.32 1010.46 L1616.17 1010.46 L1616.17 1017.36 L1611.32 1017.36 L1611.32 1022.21 L1604.42 1022.21 L1604.42 1017.36 L1599.57 1017.36 L1599.57 1010.46 L1604.42 1010.46Z"/>
<path d="M1657.57 999.4 L1664.47 999.4 L1664.47 1004.25 L1669.32 1004.25 L1669.32 1011.15 L1664.47 1011.15 L1664.47 1016 L1657.57 1016 L1657.57 1011.15 L1652.72 1011.15 L1652.72 1004.25 L1657.57 1004.25Z"/>
<path d="M1710.73 993.21 L1717.63 993.21 L1717.63 998.06 L1722.48 998.06 L1722.48 1004.96 L1717.63 1004.96 L1717.63 1009.81 L1710.73 1009.81 L1710.73 1004.96 L1705.88 1004.96 L1705.88 998.06 L1710.73 998.06Z"/>
<path d="M1763.89 987.02 L1770.79 987.02 L1770.79 991.87 L1775.64 991.87 L1775.64 998.77 L1770.79 998.77 L1770.79 1003.62 L1763.89 1003.62 L1763.89 998.77 L1759.04 998.77 L1759.04 991.87 L1763.89 991.87Z"/>
<path d="M1817.05 980.84 L1823.95 980.84 L1823.95 985.69 L1828.8 985.69 L1828.8 992.59 L1823.95 992.59 L1823.95 997.44 L1817.05 997.44 L1817.05 992.59 L1812.2 992.59 L1812.2 985.69 L1817.05 985.69Z"/>
</g>
<g fill="#069634">
<path d="M278.9 1153.84 L332.06 1147.34 L385.22 1140.84 L438.38 1134.36 L491.53 1127.88 L544.69 1121.41 L597.85 1114.95 L651.01 1108.5 L704.17 1102.06 L757.33 1095.62 L810.49 1089.2 L863.64 1082.78 L916.8 1076.37 L969.96 1069.98 L1023.12 1063.58 L1076.28 1057.2 L1129.44 1050.83 L1182.6 1044.46 L1235.76 1038.11 L1288.91 1031.76 L1342.07 1025.42 L1395.23 1019.09 L1448.39 1012.77 L1501.55 1006.46 L1554.71 1000.15 L1607.87 993.85 L1661.02 987.57 L1714.18 981.29 L1767.34 975.02 L1820.5 968.76" fill="none" stroke="#069634" stroke-width="7.5" stroke-dasharray="21.5 18.97" stroke-linejoin="round"/>
<circle cx="278.9" cy="1153.84" r="6.2" fill="none" stroke="#069634" stroke-width="7.6"/>
<circle cx="332.06" cy="1147.34" r="6.2" fill="none" stroke="#069634" stroke-width="7.6"/>
<circle cx="385.22" cy="1140.84" r="6.2" fill="none" stroke="#069634" stroke-width="7.6"/>
<circle cx="438.38" cy="1134.36" r="6.2" fill="none" stroke="#069634" stroke-width="7.6"/>
<circle cx="491.53" cy="1127.88" r="6.2" fill="none" stroke="#069634" stroke-width="7.6"/>
<circle cx="544.69" cy="1121.41" r="6.2" fill="none" stroke="#069634" stroke-width="7.6"/>
<circle cx="597.85" cy="1114.95" r="6.2" fill="none" stroke="#069634" stroke-width="7.6"/>
<circle cx="651.01" cy="1108.5" r="6.2" fill="none" stroke="#069634" stroke-width="7.6"/>
<circle cx="704.17" cy="1102.06" r="6.2" fill="none" stroke="#069634" stroke-width="7.6"/>
<circle cx="757.33" cy="1095.62" r="6.2" fill="none" stroke="#069634" stroke-width="7.6"/>
<circle cx="810.49" cy="1089.2" r="6.2" fill="none" stroke="#069634" stroke-width="7.6"/>
<circle cx="863.64" cy="1082.78" r="6.2" fill="none" stroke="#069634" stroke-width="7.6"/>
<circle cx="916.8" cy="1076.37" r="6.2" fill="none" stroke="#069634" stroke-width="7.6"/>
<circle cx="969.96" cy="1069.98" r="6.2" fill="none" stroke="#069634" stroke-width="7.6"/>
<circle cx="1023.12" cy="1063.58" r="6.2" fill="none" stroke="#069634" stroke-width="7.6"/>
<circle cx="1076.28" cy="1057.2" r="6.2" fill="none" stroke="#069634" stroke-width="7.6"/>
<circle cx="1129.44" cy="1050.83" r="6.2" fill="none" stroke="#069634" stroke-width="7.6"/>
<circle cx="1182.6" cy="1044.46" r="6.2" fill="none" stroke="#069634" stroke-width="7.6"/>
<circle cx="1235.76" cy="1038.11" r="6.2" fill="none" stroke="#069634" stroke-width="7.6"/>
<circle cx="1288.91" cy="1031.76" r="6.2" fill="none" stroke="#069634" stroke-width="7.6"/>
<circle cx="1342.07" cy="1025.42" r="6.2" fill="none" stroke="#069634" stroke-width="7.6"/>
<circle cx="1395.23" cy="1019.09" r="6.2" fill="none" stroke="#069634" stroke-width="7.6"/>
<circle cx="1448.39" cy="1012.77" r="6.2" fill="none" stroke="#069634" stroke-width="7.6"/>
<circle cx="1501.55" cy="1006.46" r="6.2" fill="none" stroke="#069634" stroke-width="7.6"/>
<circle cx="1554.71" cy="1000.15" r="6.2" fill="none" stroke="#069634" stroke-width="7.6"/>
<circle cx="1607.87" cy="993.85" r="6.2" fill="none" stroke="#069634" stroke-width="7.6"/>
<circle cx="1661.02" cy="987.57" r="6.2" fill="none" stroke="#069634" stroke-width="7.6"/>
<circle cx="1714.18" cy="981.29" r="6.2" fill="none" stroke="#069634" stroke-width="7.6"/>
<circle cx="1767.34" cy="975.02" r="6.2" fill="none" stroke="#069634" stroke-width="7.6"/>
<circle cx="1820.5" cy="968.76" r="6.2" fill="none" stroke="#069634" stroke-width="7.6"/>
</g>
<g fill="#0652dc">
<path d="M278.9 765.37 L332.06 762.04 L385.22 758.7 L438.38 755.36 L491.53 752.02 L544.69 748.67 L597.85 745.32 L651.01 741.97 L704.17 738.61 L757.33 735.24 L810.49 731.88 L863.64 728.51 L916.8 725.13 L969.96 721.76 L1023.12 718.38 L1076.28 714.99 L1129.44 711.6 L1182.6 708.21 L1235.76 704.81 L1288.91 701.42 L1342.07 698.01 L1395.23 694.61 L1448.39 691.19 L1501.55 687.78 L1554.71 684.36 L1607.87 680.94 L1661.02 677.52 L1714.18 674.09 L1767.34 670.65 L1820.5 667.22" fill="none" stroke="#0652dc" stroke-width="7.5" stroke-dasharray="21.5 18.97" stroke-linejoin="round"/>
<circle cx="278.9" cy="765.37" r="7.8"/>
<circle cx="332.06" cy="762.04" r="7.8"/>
<circle cx="385.22" cy="758.7" r="7.8"/>
<circle cx="438.38" cy="755.36" r="7.8"/>
<circle cx="491.53" cy="752.02" r="7.8"/>
<circle cx="544.69" cy="748.67" r="7.8"/>
<circle cx="597.85" cy="745.32" r="7.8"/>
<circle cx="651.01" cy="741.97" r="7.8"/>
<circle cx="704.17" cy="738.61" r="7.8"/>
<circle cx="757.33" cy="735.24" r="7.8"/>
<circle cx="810.49" cy="731.88" r="7.8"/>
<circle cx="863.64" cy="728.51" r="7.8"/>
<circle cx="916.8" cy="725.13" r="7.8"/>
<circle cx="969.96" cy="721.76" r="7.8"/>
<circle cx="1023.12" cy="718.38" r="7.8"/>
<circle cx="1076.28" cy="714.99" r="7.8"/>
<circle cx="1129.44" cy="711.6" r="7.8"/>
<circle cx="1182.6" cy="708.21" r="7.8"/>
<circle cx="1235.76" cy="704.81" r="7.8"/>
<circle cx="1288.91" cy="701.42" r="7.8"/>
<circle cx="1342.07" cy="698.01" r="7.8"/>
<circle cx="1395.23" cy="694.61" r="7.8"/>
<circle cx="1448.39" cy="691.19" r="7.8"/>
<circle cx="1501.55" cy="687.78" r="7.8"/>
<circle cx="1554.71" cy="684.36" r="7.8"/>
<circle cx="1607.87" cy="680.94" r="7.8"/>
<circle cx="1661.02" cy="677.52" r="7.8"/>
<circle cx="1714.18" cy="674.09" r="7.8"/>
<circle cx="1767.34" cy="670.65" r="7.8"/>
<circle cx="1820.5" cy="667.22" r="7.8"/>
</g>
<g fill="#9b7ff8">
<path d="M278.9 780.35 L332.06 777.15 L385.22 773.97 L438.38 770.81 L491.53 767.67 L544.69 764.54 L597.85 761.42 L651.01 758.32 L704.17 755.24 L757.33 752.18 L810.49 749.13 L863.64 746.09 L916.8 743.08 L969.96 740.08 L1023.12 737.09 L1076.28 734.12 L1129.44 731.17 L1182.6 728.23 L1235.76 725.31 L1288.91 722.41 L1342.07 719.52 L1395.23 716.65 L1448.39 713.79 L1501.55 710.95 L1554.71 708.13 L1607.87 705.32 L1661.02 702.53 L1714.18 699.76 L1767.34 697 L1820.5 694.25" fill="none" stroke="#9b7ff8" stroke-width="7.5" stroke-dasharray="21.5 18.97" stroke-linejoin="round"/>
<path d="M271.51 778.33 L276.89 772.96 L286.29 782.36 L280.91 787.73 Z M280.91 772.96 L286.29 778.33 L276.89 787.73 L271.51 782.36 Z"/>
<path d="M324.67 775.14 L330.05 769.77 L339.45 779.17 L334.07 784.54 Z M334.07 769.77 L339.45 775.14 L330.05 784.54 L324.67 779.17 Z"/>
<path d="M377.83 771.96 L383.2 766.59 L392.6 775.99 L387.23 781.36 Z M387.23 766.59 L392.6 771.96 L383.2 781.36 L377.83 775.99 Z"/>
<path d="M430.99 768.8 L436.36 763.43 L445.76 772.83 L440.39 778.2 Z M440.39 763.43 L445.76 768.8 L436.36 778.2 L430.99 772.83 Z"/>
<path d="M484.15 765.65 L489.52 760.28 L498.92 769.68 L493.55 775.05 Z M493.55 760.28 L498.92 765.65 L489.52 775.05 L484.15 769.68 Z"/>
<path d="M537.31 762.52 L542.68 757.15 L552.08 766.55 L546.71 771.92 Z M546.71 757.15 L552.08 762.52 L542.68 771.92 L537.31 766.55 Z"/>
<path d="M590.46 759.41 L595.84 754.04 L605.24 763.44 L599.86 768.81 Z M599.86 754.04 L605.24 759.41 L595.84 768.81 L590.46 763.44 Z"/>
<path d="M643.62 756.31 L649 750.94 L658.4 760.34 L653.02 765.71 Z M653.02 750.94 L658.4 756.31 L649 765.71 L643.62 760.34 Z"/>
<path d="M696.78 753.23 L702.16 747.86 L711.56 757.26 L706.18 762.63 Z M706.18 747.86 L711.56 753.23 L702.16 762.63 L696.78 757.26 Z"/>
<path d="M749.94 750.16 L755.31 744.79 L764.71 754.19 L759.34 759.56 Z M759.34 744.79 L764.71 750.16 L755.31 759.56 L749.94 754.19 Z"/>
<path d="M803.1 747.12 L808.47 741.74 L817.87 751.14 L812.5 756.52 Z M812.5 741.74 L817.87 747.12 L808.47 756.52 L803.1 751.14 Z"/>
<path d="M856.26 744.08 L861.63 738.71 L871.03 748.11 L865.66 753.48 Z M865.66 738.71 L871.03 744.08 L861.63 753.48 L856.26 748.11 Z"/>
<path d="M909.42 741.06 L914.79 735.69 L924.19 745.09 L918.82 750.46 Z M918.82 735.69 L924.19 741.06 L914.79 750.46 L909.42 745.09 Z"/>
<path d="M962.58 738.06 L967.95 732.69 L977.35 742.09 L971.98 747.46 Z M971.98 732.69 L977.35 738.06 L967.95 747.46 L962.58 742.09 Z"/>
<path d="M1015.73 735.08 L1021.11 729.7 L1030.51 739.1 L1025.13 744.48 Z M1025.13 729.7 L1030.51 735.08 L1021.11 744.48 L1015.73 739.1 Z"/>
<path d="M1068.89 732.11 L1074.27 726.74 L1083.67 736.14 L1078.29 741.51 Z M1078.29 726.74 L1083.67 732.11 L1074.27 741.51 L1068.89 736.14 Z"/>
<path d="M1122.05 729.16 L1127.42 723.78 L1136.82 733.18 L1131.45 738.56 Z M1131.45 723.78 L1136.82 729.16 L1127.42 738.56 L1122.05 733.18 Z"/>
<path d="M1175.21 726.22 L1180.58 720.85 L1189.98 730.25 L1184.61 735.62 Z M1184.61 720.85 L1189.98 726.22 L1180.58 735.62 L1175.21 730.25 Z"/>
<path d="M1228.37 723.3 L1233.74 717.93 L1243.14 727.33 L1237.77 732.7 Z M1237.77 717.93 L1243.14 723.3 L1233.74 732.7 L1228.37 727.33 Z"/>
<path d="M1281.53 720.4 L1286.9 715.02 L1296.3 724.42 L1290.93 729.8 Z M1290.93 715.02 L1296.3 720.4 L1286.9 729.8 L1281.53 724.42 Z"/>
<path d="M1334.69 717.51 L1340.06 712.13 L1349.46 721.53 L1344.09 726.91 Z M1344.09 712.13 L1349.46 717.51 L1340.06 726.91 L1334.69 721.53 Z"/>
<path d="M1387.84 714.64 L1393.22 709.26 L1402.62 718.66 L1397.24 724.04 Z M1397.24 709.26 L1402.62 714.64 L1393.22 724.04 L1387.84 718.66 Z"/>
<path d="M1441 711.78 L1446.38 706.41 L1455.78 715.81 L1450.4 721.18 Z M1450.4 706.41 L1455.78 711.78 L1446.38 721.18 L1441 715.81 Z"/>
<path d="M1494.16 708.94 L1499.54 703.57 L1508.94 712.97 L1503.56 718.34 Z M1503.56 703.57 L1508.94 708.94 L1499.54 718.34 L1494.16 712.97 Z"/>
<path d="M1547.32 706.12 L1552.69 700.74 L1562.09 710.14 L1556.72 715.52 Z M1556.72 700.74 L1562.09 706.12 L1552.69 715.52 L1547.32 710.14 Z"/>
<path d="M1600.48 703.31 L1605.85 697.93 L1615.25 707.33 L1609.88 712.71 Z M1609.88 697.93 L1615.25 703.31 L1605.85 712.71 L1600.48 707.33 Z"/>
<path d="M1653.64 700.52 L1659.01 695.14 L1668.41 704.54 L1663.04 709.92 Z M1663.04 695.14 L1668.41 700.52 L1659.01 709.92 L1653.64 704.54 Z"/>
<path d="M1706.8 697.74 L1712.17 692.37 L1721.57 701.77 L1716.2 707.14 Z M1716.2 692.37 L1721.57 697.74 L1712.17 707.14 L1706.8 701.77 Z"/>
<path d="M1759.95 694.98 L1765.33 689.61 L1774.73 699.01 L1769.35 704.38 Z M1769.35 689.61 L1774.73 694.98 L1765.33 704.38 L1759.95 699.01 Z"/>
<path d="M1813.11 692.24 L1818.49 686.87 L1827.89 696.27 L1822.51 701.64 Z M1822.51 686.87 L1827.89 692.24 L1818.49 701.64 L1813.11 696.27 Z"/>
</g>
<g fill="#843572">
<path d="M278.9 822.77 L332.06 816.38 L385.22 809.99 L438.38 803.62 L491.53 797.26 L544.69 790.91 L597.85 784.56 L651.01 778.23 L704.17 771.91 L757.33 765.6 L810.49 759.29 L863.64 753 L916.8 746.72 L969.96 740.44 L1023.12 734.18 L1076.28 727.93 L1129.44 721.68 L1182.6 715.45 L1235.76 709.23 L1288.91 703.01 L1342.07 696.81 L1395.23 690.62 L1448.39 684.44 L1501.55 678.26 L1554.71 672.1 L1607.87 665.95 L1661.02 659.8 L1714.18 653.67 L1767.34 647.55 L1820.5 641.43" fill="none" stroke="#843572" stroke-width="7.5" stroke-dasharray="21.5 18.97" stroke-linejoin="round"/>
<path fill-rule="evenodd" d="M270 813.87 L287.8 813.87 L287.8 831.67 L270 831.67Z M277.8 821.67h2.2v2.2h-2.2Z"/>
<path fill-rule="evenodd" d="M323.16 807.48 L340.96 807.48 L340.96 825.28 L323.16 825.28Z M330.96 815.28h2.2v2.2h-2.2Z"/>
<path fill-rule="evenodd" d="M376.32 801.09 L394.12 801.09 L394.12 818.89 L376.32 818.89Z M384.12 808.89h2.2v2.2h-2.2Z"/>
<path fill-rule="evenodd" d="M429.48 794.72 L447.28 794.72 L447.28 812.52 L429.48 812.52Z M437.28 802.52h2.2v2.2h-2.2Z"/>
<path fill-rule="evenodd" d="M482.63 788.36 L500.43 788.36 L500.43 806.16 L482.63 806.16Z M490.43 796.16h2.2v2.2h-2.2Z"/>
<path fill-rule="evenodd" d="M535.79 782.01 L553.59 782.01 L553.59 799.81 L535.79 799.81Z M543.59 789.81h2.2v2.2h-2.2Z"/>
<path fill-rule="evenodd" d="M588.95 775.66 L606.75 775.66 L606.75 793.46 L588.95 793.46Z M596.75 783.46h2.2v2.2h-2.2Z"/>
<path fill-rule="evenodd" d="M642.11 769.33 L659.91 769.33 L659.91 787.13 L642.11 787.13Z M649.91 777.13h2.2v2.2h-2.2Z"/>
<path fill-rule="evenodd" d="M695.27 763.01 L713.07 763.01 L713.07 780.81 L695.27 780.81Z M703.07 770.81h2.2v2.2h-2.2Z"/>
<path fill-rule="evenodd" d="M748.43 756.7 L766.23 756.7 L766.23 774.5 L748.43 774.5Z M756.23 764.5h2.2v2.2h-2.2Z"/>
<path fill-rule="evenodd" d="M801.59 750.39 L819.39 750.39 L819.39 768.19 L801.59 768.19Z M809.39 758.19h2.2v2.2h-2.2Z"/>
<path fill-rule="evenodd" d="M854.74 744.1 L872.54 744.1 L872.54 761.9 L854.74 761.9Z M862.54 751.9h2.2v2.2h-2.2Z"/>
<path fill-rule="evenodd" d="M907.9 737.82 L925.7 737.82 L925.7 755.62 L907.9 755.62Z M915.7 745.62h2.2v2.2h-2.2Z"/>
<path fill-rule="evenodd" d="M961.06 731.54 L978.86 731.54 L978.86 749.34 L961.06 749.34Z M968.86 739.34h2.2v2.2h-2.2Z"/>
<path fill-rule="evenodd" d="M1014.22 725.28 L1032.02 725.28 L1032.02 743.08 L1014.22 743.08Z M1022.02 733.08h2.2v2.2h-2.2Z"/>
<path fill-rule="evenodd" d="M1067.38 719.03 L1085.18 719.03 L1085.18 736.83 L1067.38 736.83Z M1075.18 726.83h2.2v2.2h-2.2Z"/>
<path fill-rule="evenodd" d="M1120.54 712.78 L1138.34 712.78 L1138.34 730.58 L1120.54 730.58Z M1128.34 720.58h2.2v2.2h-2.2Z"/>
<path fill-rule="evenodd" d="M1173.7 706.55 L1191.5 706.55 L1191.5 724.35 L1173.7 724.35Z M1181.5 714.35h2.2v2.2h-2.2Z"/>
<path fill-rule="evenodd" d="M1226.86 700.33 L1244.66 700.33 L1244.66 718.13 L1226.86 718.13Z M1234.66 708.13h2.2v2.2h-2.2Z"/>
<path fill-rule="evenodd" d="M1280.01 694.11 L1297.81 694.11 L1297.81 711.91 L1280.01 711.91Z M1287.81 701.91h2.2v2.2h-2.2Z"/>
<path fill-rule="evenodd" d="M1333.17 687.91 L1350.97 687.91 L1350.97 705.71 L1333.17 705.71Z M1340.97 695.71h2.2v2.2h-2.2Z"/>
<path fill-rule="evenodd" d="M1386.33 681.72 L1404.13 681.72 L1404.13 699.52 L1386.33 699.52Z M1394.13 689.52h2.2v2.2h-2.2Z"/>
<path fill-rule="evenodd" d="M1439.49 675.54 L1457.29 675.54 L1457.29 693.34 L1439.49 693.34Z M1447.29 683.34h2.2v2.2h-2.2Z"/>
<path fill-rule="evenodd" d="M1492.65 669.36 L1510.45 669.36 L1510.45 687.16 L1492.65 687.16Z M1500.45 677.16h2.2v2.2h-2.2Z"/>
<path fill-rule="evenodd" d="M1545.81 663.2 L1563.61 663.2 L1563.61 681 L1545.81 681Z M1553.61 671h2.2v2.2h-2.2Z"/>
<path fill-rule="evenodd" d="M1598.97 657.05 L1616.77 657.05 L1616.77 674.85 L1598.97 674.85Z M1606.77 664.85h2.2v2.2h-2.2Z"/>
<path fill-rule="evenodd" d="M1652.12 650.9 L1669.92 650.9 L1669.92 668.7 L1652.12 668.7Z M1659.92 658.7h2.2v2.2h-2.2Z"/>
<path fill-rule="evenodd" d="M1705.28 644.77 L1723.08 644.77 L1723.08 662.57 L1705.28 662.57Z M1713.08 652.57h2.2v2.2h-2.2Z"/>
<path fill-rule="evenodd" d="M1758.44 638.65 L1776.24 638.65 L1776.24 656.45 L1758.44 656.45Z M1766.24 646.45h2.2v2.2h-2.2Z"/>
<path fill-rule="evenodd" d="M1811.6 632.53 L1829.4 632.53 L1829.4 650.33 L1811.6 650.33Z M1819.4 640.33h2.2v2.2h-2.2Z"/>
</g>
<g fill="#e91e25">
<path d="M278.9 813.62 L332.06 807.2 L385.22 800.78 L438.38 794.38 L491.53 787.99 L544.69 781.6 L597.85 775.23 L651.01 768.87 L704.17 762.52 L757.33 756.17 L810.49 749.84 L863.64 743.52 L916.8 737.21 L969.96 730.91 L1023.12 724.61 L1076.28 718.33 L1129.44 712.06 L1182.6 705.8 L1235.76 699.55 L1288.91 693.31 L1342.07 687.08 L1395.23 680.85 L1448.39 674.64 L1501.55 668.44 L1554.71 662.25 L1607.87 656.07 L1661.02 649.9 L1714.18 643.74 L1767.34 637.59 L1820.5 631.45" fill="none" stroke="#e91e25" stroke-width="7.5" stroke-dasharray="21.5 18.97" stroke-linejoin="round"/>
<path fill-rule="evenodd" d="M262.9 813.62 L286.9 799.76 L286.9 827.48Z M278.1 812.82h1.6v1.6h-1.6Z"/>
<path fill-rule="evenodd" d="M316.06 807.2 L340.06 793.34 L340.06 821.05Z M331.26 806.4h1.6v1.6h-1.6Z"/>
<path fill-rule="evenodd" d="M369.22 800.78 L393.22 786.93 L393.22 814.64Z M384.42 799.98h1.6v1.6h-1.6Z"/>
<path fill-rule="evenodd" d="M422.38 794.38 L446.38 780.52 L446.38 808.24Z M437.58 793.58h1.6v1.6h-1.6Z"/>
<path fill-rule="evenodd" d="M475.53 787.99 L499.53 774.13 L499.53 801.84Z M490.73 787.19h1.6v1.6h-1.6Z"/>
<path fill-rule="evenodd" d="M528.69 781.6 L552.69 767.75 L552.69 795.46Z M543.89 780.8h1.6v1.6h-1.6Z"/>
<path fill-rule="evenodd" d="M581.85 775.23 L605.85 761.38 L605.85 789.09Z M597.05 774.43h1.6v1.6h-1.6Z"/>
<path fill-rule="evenodd" d="M635.01 768.87 L659.01 755.01 L659.01 782.73Z M650.21 768.07h1.6v1.6h-1.6Z"/>
<path fill-rule="evenodd" d="M688.17 762.52 L712.17 748.66 L712.17 776.37Z M703.37 761.72h1.6v1.6h-1.6Z"/>
<path fill-rule="evenodd" d="M741.33 756.17 L765.33 742.32 L765.33 770.03Z M756.53 755.37h1.6v1.6h-1.6Z"/>
<path fill-rule="evenodd" d="M794.49 749.84 L818.49 735.99 L818.49 763.7Z M809.69 749.04h1.6v1.6h-1.6Z"/>
<path fill-rule="evenodd" d="M847.64 743.52 L871.64 729.66 L871.64 757.38Z M862.84 742.72h1.6v1.6h-1.6Z"/>
<path fill-rule="evenodd" d="M900.8 737.21 L924.8 723.35 L924.8 751.06Z M916 736.41h1.6v1.6h-1.6Z"/>
<path fill-rule="evenodd" d="M953.96 730.91 L977.96 717.05 L977.96 744.76Z M969.16 730.11h1.6v1.6h-1.6Z"/>
<path fill-rule="evenodd" d="M1007.12 724.61 L1031.12 710.76 L1031.12 738.47Z M1022.32 723.81h1.6v1.6h-1.6Z"/>
<path fill-rule="evenodd" d="M1060.28 718.33 L1084.28 704.48 L1084.28 732.19Z M1075.48 717.53h1.6v1.6h-1.6Z"/>
<path fill-rule="evenodd" d="M1113.44 712.06 L1137.44 698.2 L1137.44 725.92Z M1128.64 711.26h1.6v1.6h-1.6Z"/>
<path fill-rule="evenodd" d="M1166.6 705.8 L1190.6 691.94 L1190.6 719.66Z M1181.8 705h1.6v1.6h-1.6Z"/>
<path fill-rule="evenodd" d="M1219.76 699.55 L1243.76 685.69 L1243.76 713.4Z M1234.96 698.75h1.6v1.6h-1.6Z"/>
<path fill-rule="evenodd" d="M1272.91 693.31 L1296.91 679.45 L1296.91 707.16Z M1288.11 692.51h1.6v1.6h-1.6Z"/>
<path fill-rule="evenodd" d="M1326.07 687.08 L1350.07 673.22 L1350.07 700.93Z M1341.27 686.28h1.6v1.6h-1.6Z"/>
<path fill-rule="evenodd" d="M1379.23 680.85 L1403.23 667 L1403.23 694.71Z M1394.43 680.05h1.6v1.6h-1.6Z"/>
<path fill-rule="evenodd" d="M1432.39 674.64 L1456.39 660.79 L1456.39 688.5Z M1447.59 673.84h1.6v1.6h-1.6Z"/>
<path fill-rule="evenodd" d="M1485.55 668.44 L1509.55 654.59 L1509.55 682.3Z M1500.75 667.64h1.6v1.6h-1.6Z"/>
<path fill-rule="evenodd" d="M1538.71 662.25 L1562.71 648.4 L1562.71 676.11Z M1553.91 661.45h1.6v1.6h-1.6Z"/>
<path fill-rule="evenodd" d="M1591.87 656.07 L1615.87 642.21 L1615.87 669.93Z M1607.07 655.27h1.6v1.6h-1.6Z"/>
<path fill-rule="evenodd" d="M1645.02 649.9 L1669.02 636.04 L1669.02 663.76Z M1660.22 649.1h1.6v1.6h-1.6Z"/>
<path fill-rule="evenodd" d="M1698.18 643.74 L1722.18 629.88 L1722.18 657.6Z M1713.38 642.94h1.6v1.6h-1.6Z"/>
<path fill-rule="evenodd" d="M1751.34 637.59 L1775.34 623.73 L1775.34 651.45Z M1766.54 636.79h1.6v1.6h-1.6Z"/>
<path fill-rule="evenodd" d="M1804.5 631.45 L1828.5 617.59 L1828.5 645.31Z M1819.7 630.65h1.6v1.6h-1.6Z"/>
</g>
<g fill="#006166">
<path d="M278.9 802.39 L332.06 801.93 L385.22 801.42 L438.38 800.87 L491.53 800.26 L544.69 799.61 L597.85 798.91 L651.01 798.16 L704.17 797.37 L757.33 796.52 L810.49 795.63 L863.64 794.69 L916.8 793.7 L969.96 792.66 L1023.12 791.58 L1076.28 790.44 L1129.44 789.26 L1182.6 788.03 L1235.76 786.76 L1288.91 785.43 L1342.07 784.06 L1395.23 782.64 L1448.39 781.17 L1501.55 779.65 L1554.71 778.08 L1607.87 776.47 L1661.02 774.81 L1714.18 773.1 L1767.34 771.34 L1820.5 769.53" fill="none" stroke="#006166" stroke-width="7.5" stroke-dasharray="21.5 18.97" stroke-linejoin="round"/>
<path d="M278.9 788.59 L282.88 795.49 L290.85 795.49 L286.86 802.39 L290.85 809.29 L282.88 809.29 L278.9 816.19 L274.92 809.29 L266.95 809.29 L270.94 802.39 L266.95 795.49 L274.92 795.49Z"/>
<path d="M332.06 788.13 L336.04 795.03 L344.01 795.03 L340.02 801.93 L344.01 808.83 L336.04 808.83 L332.06 815.73 L328.08 808.83 L320.11 808.83 L324.1 801.93 L320.11 795.03 L328.08 795.03Z"/>
<path d="M385.22 787.62 L389.2 794.53 L397.17 794.52 L393.18 801.42 L397.17 808.32 L389.2 808.32 L385.22 815.22 L381.24 808.32 L373.27 808.32 L377.25 801.42 L373.27 794.52 L381.24 794.53Z"/>
<path d="M438.38 787.07 L442.36 793.97 L450.33 793.97 L446.34 800.87 L450.33 807.77 L442.36 807.76 L438.38 814.67 L434.39 807.76 L426.42 807.77 L430.41 800.87 L426.42 793.97 L434.39 793.97Z"/>
<path d="M491.53 786.46 L495.52 793.37 L503.49 793.36 L499.5 800.26 L503.49 807.16 L495.52 807.16 L491.53 814.06 L487.55 807.16 L479.58 807.16 L483.57 800.26 L479.58 793.36 L487.55 793.37Z"/>
<path d="M544.69 785.81 L548.67 792.71 L556.64 792.71 L552.66 799.61 L556.64 806.51 L548.67 806.51 L544.69 813.41 L540.71 806.51 L532.74 806.51 L536.73 799.61 L532.74 792.71 L540.71 792.71Z"/>
<path d="M597.85 785.11 L601.83 792.01 L609.8 792.01 L605.81 798.91 L609.8 805.81 L601.83 805.81 L597.85 812.71 L593.87 805.81 L585.9 805.81 L589.89 798.91 L585.9 792.01 L593.87 792.01Z"/>
<path d="M651.01 784.36 L654.99 791.27 L662.96 791.26 L658.97 798.16 L662.96 805.06 L654.99 805.06 L651.01 811.96 L647.03 805.06 L639.06 805.06 L643.05 798.16 L639.06 791.26 L647.03 791.27Z"/>
<path d="M704.17 783.57 L708.15 790.47 L716.12 790.47 L712.13 797.37 L716.12 804.27 L708.15 804.26 L704.17 811.17 L700.19 804.26 L692.22 804.27 L696.21 797.37 L692.22 790.47 L700.19 790.47Z"/>
<path d="M757.33 782.72 L761.31 789.62 L769.28 789.62 L765.29 796.52 L769.28 803.42 L761.31 803.42 L757.33 810.32 L753.35 803.42 L745.38 803.42 L749.36 796.52 L745.38 789.62 L753.35 789.62Z"/>
<path d="M810.49 781.83 L814.47 788.73 L822.44 788.73 L818.45 795.63 L822.44 802.53 L814.47 802.52 L810.49 809.43 L806.5 802.52 L798.54 802.53 L802.52 795.63 L798.54 788.73 L806.5 788.73Z"/>
<path d="M863.64 780.89 L867.63 787.79 L875.6 787.79 L871.61 794.69 L875.6 801.59 L867.63 801.58 L863.64 808.49 L859.66 801.58 L851.69 801.59 L855.68 794.69 L851.69 787.79 L859.66 787.79Z"/>
<path d="M916.8 779.9 L920.78 786.8 L928.75 786.8 L924.77 793.7 L928.75 800.6 L920.78 800.59 L916.8 807.5 L912.82 800.59 L904.85 800.6 L908.84 793.7 L904.85 786.8 L912.82 786.8Z"/>
<path d="M969.96 778.86 L973.94 785.77 L981.91 785.76 L977.92 792.66 L981.91 799.56 L973.94 799.56 L969.96 806.46 L965.98 799.56 L958.01 799.56 L962 792.66 L958.01 785.76 L965.98 785.77Z"/>
<path d="M1023.12 777.78 L1027.1 784.68 L1035.07 784.68 L1031.08 791.58 L1035.07 798.48 L1027.1 798.47 L1023.12 805.38 L1019.14 798.47 L1011.17 798.48 L1015.16 791.58 L1011.17 784.68 L1019.14 784.68Z"/>
<path d="M1076.28 776.64 L1080.26 783.55 L1088.23 783.54 L1084.24 790.44 L1088.23 797.34 L1080.26 797.34 L1076.28 804.24 L1072.3 797.34 L1064.33 797.34 L1068.32 790.44 L1064.33 783.54 L1072.3 783.55Z"/>
<path d="M1129.44 775.46 L1133.42 782.37 L1141.39 782.36 L1137.4 789.26 L1141.39 796.16 L1133.42 796.16 L1129.44 803.06 L1125.46 796.16 L1117.49 796.16 L1121.48 789.26 L1117.49 782.36 L1125.46 782.37Z"/>
<path d="M1182.6 774.23 L1186.58 781.14 L1194.55 781.13 L1190.56 788.03 L1194.55 794.93 L1186.58 794.93 L1182.6 801.83 L1178.62 794.93 L1170.65 794.93 L1174.63 788.03 L1170.65 781.13 L1178.62 781.14Z"/>
<path d="M1235.76 772.96 L1239.74 779.86 L1247.71 779.86 L1243.72 786.76 L1247.71 793.66 L1239.74 793.65 L1235.76 800.56 L1231.77 793.65 L1223.8 793.66 L1227.79 786.76 L1223.8 779.86 L1231.77 779.86Z"/>
<path d="M1288.91 771.63 L1292.9 778.53 L1300.86 778.53 L1296.88 785.43 L1300.86 792.33 L1292.9 792.33 L1288.91 799.23 L1284.93 792.33 L1276.96 792.33 L1280.95 785.43 L1276.96 778.53 L1284.93 778.53Z"/>
<path d="M1342.07 770.26 L1346.05 777.16 L1354.02 777.16 L1350.04 784.06 L1354.02 790.96 L1346.05 790.95 L1342.07 797.86 L1338.09 790.95 L1330.12 790.96 L1334.11 784.06 L1330.12 777.16 L1338.09 777.16Z"/>
<path d="M1395.23 768.84 L1399.21 775.74 L1407.18 775.74 L1403.19 782.64 L1407.18 789.54 L1399.21 789.53 L1395.23 796.44 L1391.25 789.53 L1383.28 789.54 L1387.27 782.64 L1383.28 775.74 L1391.25 775.74Z"/>
<path d="M1448.39 767.37 L1452.37 774.27 L1460.34 774.27 L1456.35 781.17 L1460.34 788.07 L1452.37 788.06 L1448.39 794.97 L1444.41 788.06 L1436.44 788.07 L1440.43 781.17 L1436.44 774.27 L1444.41 774.27Z"/>
<path d="M1501.55 765.85 L1505.53 772.75 L1513.5 772.75 L1509.51 779.65 L1513.5 786.55 L1505.53 786.54 L1501.55 793.45 L1497.57 786.54 L1489.6 786.55 L1493.59 779.65 L1489.6 772.75 L1497.57 772.75Z"/>
<path d="M1554.71 764.28 L1558.69 771.19 L1566.66 771.18 L1562.67 778.08 L1566.66 784.98 L1558.69 784.98 L1554.71 791.88 L1550.73 784.98 L1542.76 784.98 L1546.74 778.08 L1542.76 771.18 L1550.73 771.19Z"/>
<path d="M1607.87 762.67 L1611.85 769.57 L1619.82 769.57 L1615.83 776.47 L1619.82 783.37 L1611.85 783.36 L1607.87 790.27 L1603.88 783.36 L1595.91 783.37 L1599.9 776.47 L1595.91 769.57 L1603.88 769.57Z"/>
<path d="M1661.02 761.01 L1665.01 767.91 L1672.98 767.91 L1668.99 774.81 L1672.98 781.71 L1665.01 781.7 L1661.02 788.61 L1657.04 781.7 L1649.07 781.71 L1653.06 774.81 L1649.07 767.91 L1657.04 767.91Z"/>
<path d="M1714.18 759.3 L1718.16 766.2 L1726.13 766.2 L1722.15 773.1 L1726.13 780 L1718.16 779.99 L1714.18 786.9 L1710.2 779.99 L1702.23 780 L1706.22 773.1 L1702.23 766.2 L1710.2 766.2Z"/>
<path d="M1767.34 757.54 L1771.32 764.44 L1779.29 764.44 L1775.3 771.34 L1779.29 778.24 L1771.32 778.24 L1767.34 785.14 L1763.36 778.24 L1755.39 778.24 L1759.38 771.34 L1755.39 764.44 L1763.36 764.44Z"/>
<path d="M1820.5 755.73 L1824.48 762.64 L1832.45 762.63 L1828.46 769.53 L1832.45 776.43 L1824.48 776.43 L1820.5 783.33 L1816.52 776.43 L1808.55 776.43 L1812.54 769.53 L1808.55 762.63 L1816.52 762.64Z"/>
</g>
<g fill="#1b1464">
<path d="M278.9 746.66 L332.06 745.56 L385.22 744.41 L438.38 743.22 L491.53 741.98 L544.69 740.69 L597.85 739.37 L651.01 737.99 L704.17 736.57 L757.33 735.11 L810.49 733.6 L863.64 732.04 L916.8 730.45 L969.96 728.8 L1023.12 727.11 L1076.28 725.37 L1129.44 723.59 L1182.6 721.77 L1235.76 719.9 L1288.91 717.98 L1342.07 716.02 L1395.23 714.01 L1448.39 711.96 L1501.55 709.86 L1554.71 707.72 L1607.87 705.53 L1661.02 703.3 L1714.18 701.02 L1767.34 698.7 L1820.5 696.33" fill="none" stroke="#1b1464" stroke-width="7.5" stroke-dasharray="21.5 18.97" stroke-linejoin="round"/>
<path d="M278.9 729.16 L283.43 740.43 L295.54 741.25 L286.22 749.04 L289.19 760.82 L278.9 754.36 L268.61 760.82 L271.58 749.04 L262.26 741.25 L274.37 740.43Z"/>
<path d="M332.06 728.06 L336.58 739.33 L348.7 740.15 L339.38 747.93 L342.34 759.71 L332.06 753.26 L321.77 759.71 L324.74 747.93 L315.42 740.15 L327.53 739.33Z"/>
<path d="M385.22 726.91 L389.74 738.18 L401.86 739 L392.54 746.79 L395.5 758.57 L385.22 752.11 L374.93 758.57 L377.89 746.79 L368.57 739 L380.69 738.18Z"/>
<path d="M438.38 725.72 L442.9 736.99 L455.02 737.81 L445.7 745.59 L448.66 757.37 L438.38 750.92 L428.09 757.37 L431.05 745.59 L421.73 737.81 L433.85 736.99Z"/>
<path d="M491.53 724.48 L496.06 735.75 L508.18 736.57 L498.86 744.36 L501.82 756.13 L491.53 749.68 L481.25 756.13 L484.21 744.36 L474.89 736.57 L487.01 735.75Z"/>
<path d="M544.69 723.19 L549.22 734.46 L561.34 735.29 L552.02 743.07 L554.98 754.85 L544.69 748.39 L534.41 754.85 L537.37 743.07 L528.05 735.29 L540.17 734.46Z"/>
<path d="M597.85 721.87 L602.38 733.14 L614.5 733.96 L605.17 741.74 L608.14 753.52 L597.85 747.07 L587.57 753.52 L590.53 741.74 L581.21 733.96 L593.33 733.14Z"/>
<path d="M651.01 720.49 L655.54 731.76 L667.65 732.58 L658.33 740.37 L661.3 752.15 L651.01 745.69 L640.72 752.15 L643.69 740.37 L634.37 732.58 L646.48 731.76Z"/>
<path d="M704.17 719.07 L708.69 730.34 L720.81 731.16 L711.49 738.95 L714.46 750.73 L704.17 744.27 L693.88 750.73 L696.85 738.95 L687.53 731.16 L699.64 730.34Z"/>
<path d="M757.33 717.61 L761.85 728.88 L773.97 729.7 L764.65 737.49 L767.61 749.27 L757.33 742.81 L747.04 749.27 L750 737.49 L740.68 729.7 L752.8 728.88Z"/>
<path d="M810.49 716.1 L815.01 727.37 L827.13 728.19 L817.81 735.98 L820.77 747.76 L810.49 741.3 L800.2 747.76 L803.16 735.98 L793.84 728.19 L805.96 727.37Z"/>
<path d="M863.64 714.54 L868.17 725.82 L880.29 726.64 L870.97 734.42 L873.93 746.2 L863.64 739.74 L853.36 746.2 L856.32 734.42 L847 726.64 L859.12 725.82Z"/>
<path d="M916.8 712.95 L921.33 724.22 L933.45 725.04 L924.13 732.82 L927.09 744.6 L916.8 738.15 L906.52 744.6 L909.48 732.82 L900.16 725.04 L912.28 724.22Z"/>
<path d="M969.96 711.3 L974.49 722.57 L986.61 723.39 L977.29 731.18 L980.25 742.96 L969.96 736.5 L959.68 742.96 L962.64 731.18 L953.32 723.39 L965.44 722.57Z"/>
<path d="M1023.12 709.61 L1027.65 720.88 L1039.76 721.7 L1030.44 729.49 L1033.41 741.27 L1023.12 734.81 L1012.83 741.27 L1015.8 729.49 L1006.48 721.7 L1018.59 720.88Z"/>
<path d="M1076.28 707.87 L1080.81 719.15 L1092.92 719.97 L1083.6 727.75 L1086.57 739.53 L1076.28 733.07 L1065.99 739.53 L1068.96 727.75 L1059.64 719.97 L1071.75 719.15Z"/>
<path d="M1129.44 706.09 L1133.96 717.36 L1146.08 718.19 L1136.76 725.97 L1139.72 737.75 L1129.44 731.29 L1119.15 737.75 L1122.11 725.97 L1112.79 718.19 L1124.91 717.36Z"/>
<path d="M1182.6 704.27 L1187.12 715.54 L1199.24 716.36 L1189.92 724.15 L1192.88 735.93 L1182.6 729.47 L1172.31 735.93 L1175.27 724.15 L1165.95 716.36 L1178.07 715.54Z"/>
<path d="M1235.76 702.4 L1240.28 713.67 L1252.4 714.49 L1243.08 722.28 L1246.04 734.05 L1235.76 727.6 L1225.47 734.05 L1228.43 722.28 L1219.11 714.49 L1231.23 713.67Z"/>
<path d="M1288.91 700.48 L1293.44 711.75 L1305.56 712.57 L1296.24 720.36 L1299.2 732.14 L1288.91 725.68 L1278.63 732.14 L1281.59 720.36 L1272.27 712.57 L1284.39 711.75Z"/>
<path d="M1342.07 698.52 L1346.6 709.79 L1358.72 710.61 L1349.4 718.4 L1352.36 730.18 L1342.07 723.72 L1331.79 730.18 L1334.75 718.4 L1325.43 710.61 L1337.55 709.79Z"/>
<path d="M1395.23 696.51 L1399.76 707.78 L1411.87 708.61 L1402.55 716.39 L1405.52 728.17 L1395.23 721.71 L1384.94 728.17 L1387.91 716.39 L1378.59 708.61 L1390.71 707.78Z"/>
<path d="M1448.39 694.46 L1452.92 705.73 L1465.03 706.55 L1455.71 714.34 L1458.68 726.12 L1448.39 719.66 L1438.1 726.12 L1441.07 714.34 L1431.75 706.55 L1443.86 705.73Z"/>
<path d="M1501.55 692.36 L1506.07 703.63 L1518.19 704.46 L1508.87 712.24 L1511.83 724.02 L1501.55 717.56 L1491.26 724.02 L1494.23 712.24 L1484.9 704.46 L1497.02 703.63Z"/>
<path d="M1554.71 690.22 L1559.23 701.49 L1571.35 702.31 L1562.03 710.1 L1564.99 721.88 L1554.71 715.42 L1544.42 721.88 L1547.38 710.1 L1538.06 702.31 L1550.18 701.49Z"/>
<path d="M1607.87 688.03 L1612.39 699.3 L1624.51 700.13 L1615.19 707.91 L1618.15 719.69 L1607.87 713.23 L1597.58 719.69 L1600.54 707.91 L1591.22 700.13 L1603.34 699.3Z"/>
<path d="M1661.02 685.8 L1665.55 697.07 L1677.67 697.89 L1668.35 705.68 L1671.31 717.46 L1661.02 711 L1650.74 717.46 L1653.7 705.68 L1644.38 697.89 L1656.5 697.07Z"/>
<path d="M1714.18 683.52 L1718.71 694.79 L1730.83 695.62 L1721.51 703.4 L1724.47 715.18 L1714.18 708.72 L1703.9 715.18 L1706.86 703.4 L1697.54 695.62 L1709.66 694.79Z"/>
<path d="M1767.34 681.2 L1771.87 692.47 L1783.98 693.29 L1774.66 701.08 L1777.63 712.86 L1767.34 706.4 L1757.06 712.86 L1760.02 701.08 L1750.7 693.29 L1762.82 692.47Z"/>
<path d="M1820.5 678.83 L1825.03 690.1 L1837.14 690.92 L1827.82 698.71 L1830.79 710.49 L1820.5 704.03 L1810.21 710.49 L1813.18 698.71 L1803.86 690.92 L1815.97 690.1Z"/>
</g>
<g fill="#5558bb">
<path d="M278.9 849.39 L332.06 846.68 L385.22 843.93 L438.38 841.13 L491.53 838.3 L544.69 835.43 L597.85 832.52 L651.01 829.57 L704.17 826.58 L757.33 823.55 L810.49 820.48 L863.64 817.37 L916.8 814.22 L969.96 811.03 L1023.12 807.8 L1076.28 804.53 L1129.44 801.22 L1182.6 797.87 L1235.76 794.48 L1288.91 791.05 L1342.07 787.58 L1395.23 784.07 L1448.39 780.52 L1501.55 776.93 L1554.71 773.3 L1607.87 769.63 L1661.02 765.93 L1714.18 762.18 L1767.34 758.39 L1820.5 754.56" fill="none" stroke="#5558bb" stroke-width="7.0" stroke-dasharray="5.8 4.3" stroke-linejoin="round"/>
<path fill-rule="evenodd" d="M278.9 835.09 L289.3 849.39 L278.9 863.69 L268.5 849.39Z M278.3 848.79h1.2v1.2h-1.2Z"/>
<path fill-rule="evenodd" d="M332.06 832.38 L342.46 846.68 L332.06 860.98 L321.66 846.68Z M331.46 846.08h1.2v1.2h-1.2Z"/>
<path fill-rule="evenodd" d="M385.22 829.63 L395.62 843.93 L385.22 858.23 L374.82 843.93Z M384.62 843.33h1.2v1.2h-1.2Z"/>
<path fill-rule="evenodd" d="M438.38 826.83 L448.78 841.13 L438.38 855.43 L427.98 841.13Z M437.78 840.53h1.2v1.2h-1.2Z"/>
<path fill-rule="evenodd" d="M491.53 824 L501.93 838.3 L491.53 852.6 L481.13 838.3Z M490.93 837.7h1.2v1.2h-1.2Z"/>
<path fill-rule="evenodd" d="M544.69 821.13 L555.09 835.43 L544.69 849.73 L534.29 835.43Z M544.09 834.83h1.2v1.2h-1.2Z"/>
<path fill-rule="evenodd" d="M597.85 818.22 L608.25 832.52 L597.85 846.82 L587.45 832.52Z M597.25 831.92h1.2v1.2h-1.2Z"/>
<path fill-rule="evenodd" d="M651.01 815.27 L661.41 829.57 L651.01 843.87 L640.61 829.57Z M650.41 828.97h1.2v1.2h-1.2Z"/>
<path fill-rule="evenodd" d="M704.17 812.28 L714.57 826.58 L704.17 840.88 L693.77 826.58Z M703.57 825.98h1.2v1.2h-1.2Z"/>
<path fill-rule="evenodd" d="M757.33 809.25 L767.73 823.55 L757.33 837.85 L746.93 823.55Z M756.73 822.95h1.2v1.2h-1.2Z"/>
<path fill-rule="evenodd" d="M810.49 806.18 L820.89 820.48 L810.49 834.78 L800.09 820.48Z M809.89 819.88h1.2v1.2h-1.2Z"/>
<path fill-rule="evenodd" d="M863.64 803.07 L874.04 817.37 L863.64 831.67 L853.24 817.37Z M863.04 816.77h1.2v1.2h-1.2Z"/>
<path fill-rule="evenodd" d="M916.8 799.92 L927.2 814.22 L916.8 828.52 L906.4 814.22Z M916.2 813.62h1.2v1.2h-1.2Z"/>
<path fill-rule="evenodd" d="M969.96 796.73 L980.36 811.03 L969.96 825.33 L959.56 811.03Z M969.36 810.43h1.2v1.2h-1.2Z"/>
<path fill-rule="evenodd" d="M1023.12 793.5 L1033.52 807.8 L1023.12 822.1 L1012.72 807.8Z M1022.52 807.2h1.2v1.2h-1.2Z"/>
<path fill-rule="evenodd" d="M1076.28 790.23 L1086.68 804.53 L1076.28 818.83 L1065.88 804.53Z M1075.68 803.93h1.2v1.2h-1.2Z"/>
<path fill-rule="evenodd" d="M1129.44 786.92 L1139.84 801.22 L1129.44 815.52 L1119.04 801.22Z M1128.84 800.62h1.2v1.2h-1.2Z"/>
<path fill-rule="evenodd" d="M1182.6 783.57 L1193 797.87 L1182.6 812.17 L1172.2 797.87Z M1182 797.27h1.2v1.2h-1.2Z"/>
<path fill-rule="evenodd" d="M1235.76 780.18 L1246.16 794.48 L1235.76 808.78 L1225.36 794.48Z M1235.16 793.88h1.2v1.2h-1.2Z"/>
<path fill-rule="evenodd" d="M1288.91 776.75 L1299.31 791.05 L1288.91 805.35 L1278.51 791.05Z M1288.31 790.45h1.2v1.2h-1.2Z"/>
<path fill-rule="evenodd" d="M1342.07 773.28 L1352.47 787.58 L1342.07 801.88 L1331.67 787.58Z M1341.47 786.98h1.2v1.2h-1.2Z"/>
<path fill-rule="evenodd" d="M1395.23 769.77 L1405.63 784.07 L1395.23 798.37 L1384.83 784.07Z M1394.63 783.47h1.2v1.2h-1.2Z"/>
<path fill-rule="evenodd" d="M1448.39 766.22 L1458.79 780.52 L1448.39 794.82 L1437.99 780.52Z M1447.79 779.92h1.2v1.2h-1.2Z"/>
<path fill-rule="evenodd" d="M1501.55 762.63 L1511.95 776.93 L1501.55 791.23 L1491.15 776.93Z M1500.95 776.33h1.2v1.2h-1.2Z"/>
<path fill-rule="evenodd" d="M1554.71 759 L1565.11 773.3 L1554.71 787.6 L1544.31 773.3Z M1554.11 772.7h1.2v1.2h-1.2Z"/>
<path fill-rule="evenodd" d="M1607.87 755.33 L1618.27 769.63 L1607.87 783.93 L1597.47 769.63Z M1607.27 769.03h1.2v1.2h-1.2Z"/>
<path fill-rule="evenodd" d="M1661.02 751.63 L1671.42 765.93 L1661.02 780.23 L1650.62 765.93Z M1660.42 765.33h1.2v1.2h-1.2Z"/>
<path fill-rule="evenodd" d="M1714.18 747.88 L1724.58 762.18 L1714.18 776.48 L1703.78 762.18Z M1713.58 761.58h1.2v1.2h-1.2Z"/>
<path fill-rule="evenodd" d="M1767.34 744.09 L1777.74 758.39 L1767.34 772.69 L1756.94 758.39Z M1766.74 757.79h1.2v1.2h-1.2Z"/>
<path fill-rule="evenodd" d="M1820.5 740.26 L1830.9 754.56 L1820.5 768.86 L1810.1 754.56Z M1819.9 753.96h1.2v1.2h-1.2Z"/>
</g>
<g fill="#6b1c50">
<path d="M278.9 895.97 L332.06 893.68 L385.22 891.36 L438.38 888.99 L491.53 886.59 L544.69 884.16 L597.85 881.69 L651.01 879.18 L704.17 876.64 L757.33 874.06 L810.49 871.44 L863.64 868.79 L916.8 866.1 L969.96 863.38 L1023.12 860.62 L1076.28 857.82 L1129.44 854.99 L1182.6 852.12 L1235.76 849.21 L1288.91 846.27 L1342.07 843.3 L1395.23 840.28 L1448.39 837.23 L1501.55 834.15 L1554.71 831.02 L1607.87 827.86 L1661.02 824.67 L1714.18 821.44 L1767.34 818.17 L1820.5 814.87" fill="none" stroke="#6b1c50" stroke-width="7.0" stroke-dasharray="5.8 4.3" stroke-linejoin="round"/>
<path d="M275.45 887.67 L282.35 887.67 L282.35 892.52 L287.2 892.52 L287.2 899.42 L282.35 899.42 L282.35 904.27 L275.45 904.27 L275.45 899.42 L270.6 899.42 L270.6 892.52 L275.45 892.52Z"/>
<path d="M328.61 885.38 L335.51 885.38 L335.51 890.23 L340.36 890.23 L340.36 897.13 L335.51 897.13 L335.51 901.98 L328.61 901.98 L328.61 897.13 L323.76 897.13 L323.76 890.23 L328.61 890.23Z"/>
<path d="M381.77 883.06 L388.67 883.06 L388.67 887.91 L393.52 887.91 L393.52 894.81 L388.67 894.81 L388.67 899.66 L381.77 899.66 L381.77 894.81 L376.92 894.81 L376.92 887.91 L381.77 887.91Z"/>
<path d="M434.93 880.69 L441.83 880.69 L441.83 885.54 L446.68 885.54 L446.68 892.44 L441.83 892.44 L441.83 897.29 L434.93 897.29 L434.93 892.44 L430.08 892.44 L430.08 885.54 L434.93 885.54Z"/>
<path d="M488.08 878.29 L494.98 878.29 L494.98 883.14 L499.83 883.14 L499.83 890.04 L494.98 890.04 L494.98 894.89 L488.08 894.89 L488.08 890.04 L483.23 890.04 L483.23 883.14 L488.08 883.14Z"/>
<path d="M541.24 875.86 L548.14 875.86 L548.14 880.71 L552.99 880.71 L552.99 887.61 L548.14 887.61 L548.14 892.46 L541.24 892.46 L541.24 887.61 L536.39 887.61 L536.39 880.71 L541.24 880.71Z"/>
<path d="M594.4 873.39 L601.3 873.39 L601.3 878.24 L606.15 878.24 L606.15 885.14 L601.3 885.14 L601.3 889.99 L594.4 889.99 L594.4 885.14 L589.55 885.14 L589.55 878.24 L594.4 878.24Z"/>
<path d="M647.56 870.88 L654.46 870.88 L654.46 875.73 L659.31 875.73 L659.31 882.63 L654.46 882.63 L654.46 887.48 L647.56 887.48 L647.56 882.63 L642.71 882.63 L642.71 875.73 L647.56 875.73Z"/>
<path d="M700.72 868.34 L707.62 868.34 L707.62 873.19 L712.47 873.19 L712.47 880.09 L707.62 880.09 L707.62 884.94 L700.72 884.94 L700.72 880.09 L695.87 880.09 L695.87 873.19 L700.72 873.19Z"/>
<path d="M753.88 865.76 L760.78 865.76 L760.78 870.61 L765.63 870.61 L765.63 877.51 L760.78 877.51 L760.78 882.36 L753.88 882.36 L753.88 877.51 L749.03 877.51 L749.03 870.61 L753.88 870.61Z"/>
<path d="M807.04 863.14 L813.94 863.14 L813.94 867.99 L818.79 867.99 L818.79 874.89 L813.94 874.89 L813.94 879.74 L807.04 879.74 L807.04 874.89 L802.19 874.89 L802.19 867.99 L807.04 867.99Z"/>
<path d="M860.19 860.49 L867.09 860.49 L867.09 865.34 L871.94 865.34 L871.94 872.24 L867.09 872.24 L867.09 877.09 L860.19 877.09 L860.19 872.24 L855.34 872.24 L855.34 865.34 L860.19 865.34Z"/>
<path d="M913.35 857.8 L920.25 857.8 L920.25 862.65 L925.1 862.65 L925.1 869.55 L920.25 869.55 L920.25 874.4 L913.35 874.4 L913.35 869.55 L908.5 869.55 L908.5 862.65 L913.35 862.65Z"/>
<path d="M966.51 855.08 L973.41 855.08 L973.41 859.93 L978.26 859.93 L978.26 866.83 L973.41 866.83 L973.41 871.68 L966.51 871.68 L966.51 866.83 L961.66 866.83 L961.66 859.93 L966.51 859.93Z"/>
<path d="M1019.67 852.32 L1026.57 852.32 L1026.57 857.17 L1031.42 857.17 L1031.42 864.07 L1026.57 864.07 L1026.57 868.92 L1019.67 868.92 L1019.67 864.07 L1014.82 864.07 L1014.82 857.17 L1019.67 857.17Z"/>
<path d="M1072.83 849.52 L1079.73 849.52 L1079.73 854.37 L1084.58 854.37 L1084.58 861.27 L1079.73 861.27 L1079.73 866.12 L1072.83 866.12 L1072.83 861.27 L1067.98 861.27 L1067.98 854.37 L1072.83 854.37Z"/>
<path d="M1125.99 846.69 L1132.89 846.69 L1132.89 851.54 L1137.74 851.54 L1137.74 858.44 L1132.89 858.44 L1132.89 863.29 L1125.99 863.29 L1125.99 858.44 L1121.14 858.44 L1121.14 851.54 L1125.99 851.54Z"/>
<path d="M1179.15 843.82 L1186.05 843.82 L1186.05 848.67 L1190.9 848.67 L1190.9 855.57 L1186.05 855.57 L1186.05 860.42 L1179.15 860.42 L1179.15 855.57 L1174.3 855.57 L1174.3 848.67 L1179.15 848.67Z"/>
<path d="M1232.31 840.91 L1239.21 840.91 L1239.21 845.76 L1244.06 845.76 L1244.06 852.66 L1239.21 852.66 L1239.21 857.51 L1232.31 857.51 L1232.31 852.66 L1227.46 852.66 L1227.46 845.76 L1232.31 845.76Z"/>
<path d="M1285.46 837.97 L1292.36 837.97 L1292.36 842.82 L1297.21 842.82 L1297.21 849.72 L1292.36 849.72 L1292.36 854.57 L1285.46 854.57 L1285.46 849.72 L1280.61 849.72 L1280.61 842.82 L1285.46 842.82Z"/>
<path d="M1338.62 835 L1345.52 835 L1345.52 839.85 L1350.37 839.85 L1350.37 846.75 L1345.52 846.75 L1345.52 851.6 L1338.62 851.6 L1338.62 846.75 L1333.77 846.75 L1333.77 839.85 L1338.62 839.85Z"/>
<path d="M1391.78 831.98 L1398.68 831.98 L1398.68 836.83 L1403.53 836.83 L1403.53 843.73 L1398.68 843.73 L1398.68 848.58 L1391.78 848.58 L1391.78 843.73 L1386.93 843.73 L1386.93 836.83 L1391.78 836.83Z"/>
<path d="M1444.94 828.93 L1451.84 828.93 L1451.84 833.78 L1456.69 833.78 L1456.69 840.68 L1451.84 840.68 L1451.84 845.53 L1444.94 845.53 L1444.94 840.68 L1440.09 840.68 L1440.09 833.78 L1444.94 833.78Z"/>
<path d="M1498.1 825.85 L1505 825.85 L1505 830.7 L1509.85 830.7 L1509.85 837.6 L1505 837.6 L1505 842.45 L1498.1 842.45 L1498.1 837.6 L1493.25 837.6 L1493.25 830.7 L1498.1 830.7Z"/>
<path d="M1551.26 822.72 L1558.16 822.72 L1558.16 827.57 L1563.01 827.57 L1563.01 834.47 L1558.16 834.47 L1558.16 839.32 L1551.26 839.32 L1551.26 834.47 L1546.41 834.47 L1546.41 827.57 L1551.26 827.57Z"/>
<path d="M1604.42 819.56 L1611.32 819.56 L1611.32 824.41 L1616.17 824.41 L1616.17 831.31 L1611.32 831.31 L1611.32 836.16 L1604.42 836.16 L1604.42 831.31 L1599.57 831.31 L1599.57 824.41 L1604.42 824.41Z"/>
<path d="M1657.57 816.37 L1664.47 816.37 L1664.47 821.22 L1669.32 821.22 L1669.32 828.12 L1664.47 828.12 L1664.47 832.97 L1657.57 832.97 L1657.57 828.12 L1652.72 828.12 L1652.72 821.22 L1657.57 821.22Z"/>
<path d="M1710.73 813.14 L1717.63 813.14 L1717.63 817.99 L1722.48 817.99 L1722.48 824.89 L1717.63 824.89 L1717.63 829.74 L1710.73 829.74 L1710.73 824.89 L1705.88 824.89 L1705.88 817.99 L1710.73 817.99Z"/>
<path d="M1763.89 809.87 L1770.79 809.87 L1770.79 814.72 L1775.64 814.72 L1775.64 821.62 L1770.79 821.62 L1770.79 826.47 L1763.89 826.47 L1763.89 821.62 L1759.04 821.62 L1759.04 814.72 L1763.89 814.72Z"/>
<path d="M1817.05 806.57 L1823.95 806.57 L1823.95 811.42 L1828.8 811.42 L1828.8 818.32 L1823.95 818.32 L1823.95 823.17 L1817.05 823.17 L1817.05 818.32 L1812.2 818.32 L1812.2 811.42 L1817.05 811.42Z"/>
</g>
<g fill="#5b27cd">
<path d="M278.9 547.02 L332.06 543.55 L385.22 540.01 L438.38 536.41 L491.53 532.74 L544.69 529.01 L597.85 525.21 L651.01 521.35 L704.17 517.43 L757.33 513.44 L810.49 509.39 L863.64 505.27 L916.8 501.09 L969.96 496.84 L1023.12 492.53 L1076.28 488.16 L1129.44 483.72 L1182.6 479.22 L1235.76 474.65 L1288.91 470.02 L1342.07 465.32 L1395.23 460.56 L1448.39 455.74 L1501.55 450.85 L1554.71 445.9 L1607.87 440.88 L1661.02 435.8 L1714.18 430.65 L1767.34 425.44 L1820.5 420.17" fill="none" stroke="#5b27cd" stroke-width="7.0" stroke-dasharray="5.8 4.3" stroke-linejoin="round"/>
<circle cx="278.9" cy="547.02" r="5.75" fill="none" stroke="#5b27cd" stroke-width="8.5"/>
<circle cx="332.06" cy="543.55" r="5.75" fill="none" stroke="#5b27cd" stroke-width="8.5"/>
<circle cx="385.22" cy="540.01" r="5.75" fill="none" stroke="#5b27cd" stroke-width="8.5"/>
<circle cx="438.38" cy="536.41" r="5.75" fill="none" stroke="#5b27cd" stroke-width="8.5"/>
<circle cx="491.53" cy="532.74" r="5.75" fill="none" stroke="#5b27cd" stroke-width="8.5"/>
<circle cx="544.69" cy="529.01" r="5.75" fill="none" stroke="#5b27cd" stroke-width="8.5"/>
<circle cx="597.85" cy="525.21" r="5.75" fill="none" stroke="#5b27cd" stroke-width="8.5"/>
<circle cx="651.01" cy="521.35" r="5.75" fill="none" stroke="#5b27cd" stroke-width="8.5"/>
<circle cx="704.17" cy="517.43" r="5.75" fill="none" stroke="#5b27cd" stroke-width="8.5"/>
<circle cx="757.33" cy="513.44" r="5.75" fill="none" stroke="#5b27cd" stroke-width="8.5"/>
<circle cx="810.49" cy="509.39" r="5.75" fill="none" stroke="#5b27cd" stroke-width="8.5"/>
<circle cx="863.64" cy="505.27" r="5.75" fill="none" stroke="#5b27cd" stroke-width="8.5"/>
<circle cx="916.8" cy="501.09" r="5.75" fill="none" stroke="#5b27cd" stroke-width="8.5"/>
<circle cx="969.96" cy="496.84" r="5.75" fill="none" stroke="#5b27cd" stroke-width="8.5"/>
<circle cx="1023.12" cy="492.53" r="5.75" fill="none" stroke="#5b27cd" stroke-width="8.5"/>
<circle cx="1076.28" cy="488.16" r="5.75" fill="none" stroke="#5b27cd" stroke-width="8.5"/>
<circle cx="1129.44" cy="483.72" r="5.75" fill="none" stroke="#5b27cd" stroke-width="8.5"/>
<circle cx="1182.6" cy="479.22" r="5.75" fill="none" stroke="#5b27cd" stroke-width="8.5"/>
<circle cx="1235.76" cy="474.65" r="5.75" fill="none" stroke="#5b27cd" stroke-width="8.5"/>
<circle cx="1288.91" cy="470.02" r="5.75" fill="none" stroke="#5b27cd" stroke-width="8.5"/>
<circle cx="1342.07" cy="465.32" r="5.75" fill="none" stroke="#5b27cd" stroke-width="8.5"/>
<circle cx="1395.23" cy="460.56" r="5.75" fill="none" stroke="#5b27cd" stroke-width="8.5"/>
<circle cx="1448.39" cy="455.74" r="5.75" fill="none" stroke="#5b27cd" stroke-width="8.5"/>
<circle cx="1501.55" cy="450.85" r="5.75" fill="none" stroke="#5b27cd" stroke-width="8.5"/>
<circle cx="1554.71" cy="445.9" r="5.75" fill="none" stroke="#5b27cd" stroke-width="8.5"/>
<circle cx="1607.87" cy="440.88" r="5.75" fill="none" stroke="#5b27cd" stroke-width="8.5"/>
<circle cx="1661.02" cy="435.8" r="5.75" fill="none" stroke="#5b27cd" stroke-width="8.5"/>
<circle cx="1714.18" cy="430.65" r="5.75" fill="none" stroke="#5b27cd" stroke-width="8.5"/>
<circle cx="1767.34" cy="425.44" r="5.75" fill="none" stroke="#5b27cd" stroke-width="8.5"/>
<circle cx="1820.5" cy="420.17" r="5.75" fill="none" stroke="#5b27cd" stroke-width="8.5"/>
</g>
<g fill="#f72a21">
<path d="M278.9 494.2 L332.06 490.32 L385.22 486.36 L438.38 482.34 L491.53 478.25 L544.69 474.08 L597.85 469.85 L651.01 465.55 L704.17 461.18 L757.33 456.73 L810.49 452.22 L863.64 447.64 L916.8 442.99 L969.96 438.27 L1023.12 433.47 L1076.28 428.61 L1129.44 423.68 L1182.6 418.68 L1235.76 413.61 L1288.91 408.47 L1342.07 403.25 L1395.23 397.97 L1448.39 392.62 L1501.55 387.2 L1554.71 381.71 L1607.87 376.15 L1661.02 370.52 L1714.18 364.81 L1767.34 359.04 L1820.5 353.2" fill="none" stroke="#f72a21" stroke-width="7.0" stroke-dasharray="5.8 4.3" stroke-linejoin="round"/>
<circle cx="278.9" cy="494.2" r="7.6"/>
<circle cx="332.06" cy="490.32" r="7.6"/>
<circle cx="385.22" cy="486.36" r="7.6"/>
<circle cx="438.38" cy="482.34" r="7.6"/>
<circle cx="491.53" cy="478.25" r="7.6"/>
<circle cx="544.69" cy="474.08" r="7.6"/>
<circle cx="597.85" cy="469.85" r="7.6"/>
<circle cx="651.01" cy="465.55" r="7.6"/>
<circle cx="704.17" cy="461.18" r="7.6"/>
<circle cx="757.33" cy="456.73" r="7.6"/>
<circle cx="810.49" cy="452.22" r="7.6"/>
<circle cx="863.64" cy="447.64" r="7.6"/>
<circle cx="916.8" cy="442.99" r="7.6"/>
<circle cx="969.96" cy="438.27" r="7.6"/>
<circle cx="1023.12" cy="433.47" r="7.6"/>
<circle cx="1076.28" cy="428.61" r="7.6"/>
<circle cx="1129.44" cy="423.68" r="7.6"/>
<circle cx="1182.6" cy="418.68" r="7.6"/>
<circle cx="1235.76" cy="413.61" r="7.6"/>
<circle cx="1288.91" cy="408.47" r="7.6"/>
<circle cx="1342.07" cy="403.25" r="7.6"/>
<circle cx="1395.23" cy="397.97" r="7.6"/>
<circle cx="1448.39" cy="392.62" r="7.6"/>
<circle cx="1501.55" cy="387.2" r="7.6"/>
<circle cx="1554.71" cy="381.71" r="7.6"/>
<circle cx="1607.87" cy="376.15" r="7.6"/>
<circle cx="1661.02" cy="370.52" r="7.6"/>
<circle cx="1714.18" cy="364.81" r="7.6"/>
<circle cx="1767.34" cy="359.04" r="7.6"/>
<circle cx="1820.5" cy="353.2" r="7.6"/>
</g>
<g fill="#fba465">
<path d="M278.9 698.83 L332.06 693.3 L385.22 687.7 L438.38 682.04 L491.53 676.31 L544.69 670.5 L597.85 664.64 L651.01 658.7 L704.17 652.69 L757.33 646.62 L810.49 640.48 L863.64 634.27 L916.8 627.99 L969.96 621.64 L1023.12 615.23 L1076.28 608.75 L1129.44 602.2 L1182.6 595.58 L1235.76 588.89 L1288.91 582.13 L1342.07 575.31 L1395.23 568.42 L1448.39 561.46 L1501.55 554.43 L1554.71 547.34 L1607.87 540.17 L1661.02 532.94 L1714.18 525.64 L1767.34 518.27 L1820.5 510.83" fill="none" stroke="#fba465" stroke-width="7.0" stroke-dasharray="5.8 4.3" stroke-linejoin="round"/>
<path d="M271.37 696.96 L277.03 691.3 L286.43 700.7 L280.77 706.36 Z M280.77 691.3 L286.43 696.96 L277.03 706.36 L271.37 700.7 Z"/>
<path d="M324.53 691.43 L330.19 685.77 L339.59 695.17 L333.93 700.83 Z M333.93 685.77 L339.59 691.43 L330.19 700.83 L324.53 695.17 Z"/>
<path d="M377.69 685.83 L383.35 680.17 L392.75 689.57 L387.09 695.23 Z M387.09 680.17 L392.75 685.83 L383.35 695.23 L377.69 689.57 Z"/>
<path d="M430.85 680.17 L436.5 674.51 L445.9 683.91 L440.25 689.57 Z M440.25 674.51 L445.9 680.17 L436.5 689.57 L430.85 683.91 Z"/>
<path d="M484.01 674.43 L489.66 668.78 L499.06 678.18 L493.41 683.83 Z M493.41 668.78 L499.06 674.43 L489.66 683.83 L484.01 678.18 Z"/>
<path d="M537.16 668.63 L542.82 662.98 L552.22 672.38 L546.56 678.03 Z M546.56 662.98 L552.22 668.63 L542.82 678.03 L537.16 672.38 Z"/>
<path d="M590.32 662.76 L595.98 657.11 L605.38 666.51 L599.72 672.16 Z M599.72 657.11 L605.38 662.76 L595.98 672.16 L590.32 666.51 Z"/>
<path d="M643.48 656.83 L649.14 651.17 L658.54 660.57 L652.88 666.23 Z M652.88 651.17 L658.54 656.83 L649.14 666.23 L643.48 660.57 Z"/>
<path d="M696.64 650.82 L702.3 645.16 L711.7 654.56 L706.04 660.22 Z M706.04 645.16 L711.7 650.82 L702.3 660.22 L696.64 654.56 Z"/>
<path d="M749.8 644.75 L755.46 639.09 L764.86 648.49 L759.2 654.15 Z M759.2 639.09 L764.86 644.75 L755.46 654.15 L749.8 648.49 Z"/>
<path d="M802.96 638.61 L808.61 632.95 L818.01 642.35 L812.36 648.01 Z M812.36 632.95 L818.01 638.61 L808.61 648.01 L802.96 642.35 Z"/>
<path d="M856.12 632.4 L861.77 626.74 L871.17 636.14 L865.52 641.8 Z M865.52 626.74 L871.17 632.4 L861.77 641.8 L856.12 636.14 Z"/>
<path d="M909.28 626.12 L914.93 620.46 L924.33 629.86 L918.68 635.52 Z M918.68 620.46 L924.33 626.12 L914.93 635.52 L909.28 629.86 Z"/>
<path d="M962.43 619.77 L968.09 614.11 L977.49 623.51 L971.83 629.17 Z M971.83 614.11 L977.49 619.77 L968.09 629.17 L962.43 623.51 Z"/>
<path d="M1015.59 613.36 L1021.25 607.7 L1030.65 617.1 L1024.99 622.76 Z M1024.99 607.7 L1030.65 613.36 L1021.25 622.76 L1015.59 617.1 Z"/>
<path d="M1068.75 606.87 L1074.41 601.22 L1083.81 610.62 L1078.15 616.27 Z M1078.15 601.22 L1083.81 606.87 L1074.41 616.27 L1068.75 610.62 Z"/>
<path d="M1121.91 600.32 L1127.57 594.67 L1136.97 604.07 L1131.31 609.72 Z M1131.31 594.67 L1136.97 600.32 L1127.57 609.72 L1121.91 604.07 Z"/>
<path d="M1175.07 593.71 L1180.72 588.05 L1190.12 597.45 L1184.47 603.11 Z M1184.47 588.05 L1190.12 593.71 L1180.72 603.11 L1175.07 597.45 Z"/>
<path d="M1228.23 587.02 L1233.88 581.36 L1243.28 590.76 L1237.63 596.42 Z M1237.63 581.36 L1243.28 587.02 L1233.88 596.42 L1228.23 590.76 Z"/>
<path d="M1281.39 580.26 L1287.04 574.61 L1296.44 584.01 L1290.79 589.66 Z M1290.79 574.61 L1296.44 580.26 L1287.04 589.66 L1281.39 584.01 Z"/>
<path d="M1334.54 573.44 L1340.2 567.78 L1349.6 577.18 L1343.94 582.84 Z M1343.94 567.78 L1349.6 573.44 L1340.2 582.84 L1334.54 577.18 Z"/>
<path d="M1387.7 566.55 L1393.36 560.89 L1402.76 570.29 L1397.1 575.95 Z M1397.1 560.89 L1402.76 566.55 L1393.36 575.95 L1387.7 570.29 Z"/>
<path d="M1440.86 559.59 L1446.52 553.93 L1455.92 563.33 L1450.26 568.99 Z M1450.26 553.93 L1455.92 559.59 L1446.52 568.99 L1440.86 563.33 Z"/>
<path d="M1494.02 552.56 L1499.68 546.9 L1509.08 556.3 L1503.42 561.96 Z M1503.42 546.9 L1509.08 552.56 L1499.68 561.96 L1494.02 556.3 Z"/>
<path d="M1547.18 545.47 L1552.84 539.81 L1562.24 549.21 L1556.58 554.87 Z M1556.58 539.81 L1562.24 545.47 L1552.84 554.87 L1547.18 549.21 Z"/>
<path d="M1600.34 538.3 L1605.99 532.64 L1615.39 542.04 L1609.74 547.7 Z M1609.74 532.64 L1615.39 538.3 L1605.99 547.7 L1600.34 542.04 Z"/>
<path d="M1653.5 531.07 L1659.15 525.41 L1668.55 534.81 L1662.9 540.47 Z M1662.9 525.41 L1668.55 531.07 L1659.15 540.47 L1653.5 534.81 Z"/>
<path d="M1706.65 523.77 L1712.31 518.11 L1721.71 527.51 L1716.05 533.17 Z M1716.05 518.11 L1721.71 523.77 L1712.31 533.17 L1706.65 527.51 Z"/>
<path d="M1759.81 516.4 L1765.47 510.74 L1774.87 520.14 L1769.21 525.8 Z M1769.21 510.74 L1774.87 516.4 L1765.47 525.8 L1759.81 520.14 Z"/>
<path d="M1812.97 508.96 L1818.63 503.31 L1828.03 512.71 L1822.37 518.36 Z M1822.37 503.31 L1828.03 508.96 L1818.63 518.36 L1812.97 512.71 Z"/>
</g>
<g fill="#3d2966">
<path d="M278.9 700.91 L332.06 695.38 L385.22 689.78 L438.38 684.12 L491.53 678.39 L544.69 672.58 L597.85 666.72 L651.01 660.78 L704.17 654.77 L757.33 648.7 L810.49 642.56 L863.64 636.35 L916.8 630.07 L969.96 623.72 L1023.12 617.31 L1076.28 610.83 L1129.44 604.28 L1182.6 597.66 L1235.76 590.97 L1288.91 584.21 L1342.07 577.39 L1395.23 570.5 L1448.39 563.54 L1501.55 556.51 L1554.71 549.42 L1607.87 542.25 L1661.02 535.02 L1714.18 527.72 L1767.34 520.35 L1820.5 512.91" fill="none" stroke="#3d2966" stroke-width="7.0" stroke-dasharray="5.8 4.3" stroke-linejoin="round"/>
<path fill-rule="evenodd" d="M270 692.01 L287.8 692.01 L287.8 709.81 L270 709.81Z M277.9 699.91h2v2h-2Z"/>
<path fill-rule="evenodd" d="M323.16 686.48 L340.96 686.48 L340.96 704.28 L323.16 704.28Z M331.06 694.38h2v2h-2Z"/>
<path fill-rule="evenodd" d="M376.32 680.88 L394.12 680.88 L394.12 698.68 L376.32 698.68Z M384.22 688.78h2v2h-2Z"/>
<path fill-rule="evenodd" d="M429.48 675.22 L447.28 675.22 L447.28 693.02 L429.48 693.02Z M437.38 683.12h2v2h-2Z"/>
<path fill-rule="evenodd" d="M482.63 669.49 L500.43 669.49 L500.43 687.29 L482.63 687.29Z M490.53 677.39h2v2h-2Z"/>
<path fill-rule="evenodd" d="M535.79 663.68 L553.59 663.68 L553.59 681.48 L535.79 681.48Z M543.69 671.58h2v2h-2Z"/>
<path fill-rule="evenodd" d="M588.95 657.82 L606.75 657.82 L606.75 675.62 L588.95 675.62Z M596.85 665.72h2v2h-2Z"/>
<path fill-rule="evenodd" d="M642.11 651.88 L659.91 651.88 L659.91 669.68 L642.11 669.68Z M650.01 659.78h2v2h-2Z"/>
<path fill-rule="evenodd" d="M695.27 645.87 L713.07 645.87 L713.07 663.67 L695.27 663.67Z M703.17 653.77h2v2h-2Z"/>
<path fill-rule="evenodd" d="M748.43 639.8 L766.23 639.8 L766.23 657.6 L748.43 657.6Z M756.33 647.7h2v2h-2Z"/>
<path fill-rule="evenodd" d="M801.59 633.66 L819.39 633.66 L819.39 651.46 L801.59 651.46Z M809.49 641.56h2v2h-2Z"/>
<path fill-rule="evenodd" d="M854.74 627.45 L872.54 627.45 L872.54 645.25 L854.74 645.25Z M862.64 635.35h2v2h-2Z"/>
<path fill-rule="evenodd" d="M907.9 621.17 L925.7 621.17 L925.7 638.97 L907.9 638.97Z M915.8 629.07h2v2h-2Z"/>
<path fill-rule="evenodd" d="M961.06 614.82 L978.86 614.82 L978.86 632.62 L961.06 632.62Z M968.96 622.72h2v2h-2Z"/>
<path fill-rule="evenodd" d="M1014.22 608.41 L1032.02 608.41 L1032.02 626.21 L1014.22 626.21Z M1022.12 616.31h2v2h-2Z"/>
<path fill-rule="evenodd" d="M1067.38 601.93 L1085.18 601.93 L1085.18 619.73 L1067.38 619.73Z M1075.28 609.83h2v2h-2Z"/>
<path fill-rule="evenodd" d="M1120.54 595.38 L1138.34 595.38 L1138.34 613.18 L1120.54 613.18Z M1128.44 603.28h2v2h-2Z"/>
<path fill-rule="evenodd" d="M1173.7 588.76 L1191.5 588.76 L1191.5 606.56 L1173.7 606.56Z M1181.6 596.66h2v2h-2Z"/>
<path fill-rule="evenodd" d="M1226.86 582.07 L1244.66 582.07 L1244.66 599.87 L1226.86 599.87Z M1234.76 589.97h2v2h-2Z"/>
<path fill-rule="evenodd" d="M1280.01 575.31 L1297.81 575.31 L1297.81 593.11 L1280.01 593.11Z M1287.91 583.21h2v2h-2Z"/>
<path fill-rule="evenodd" d="M1333.17 568.49 L1350.97 568.49 L1350.97 586.29 L1333.17 586.29Z M1341.07 576.39h2v2h-2Z"/>
<path fill-rule="evenodd" d="M1386.33 561.6 L1404.13 561.6 L1404.13 579.4 L1386.33 579.4Z M1394.23 569.5h2v2h-2Z"/>
<path fill-rule="evenodd" d="M1439.49 554.64 L1457.29 554.64 L1457.29 572.44 L1439.49 572.44Z M1447.39 562.54h2v2h-2Z"/>
<path fill-rule="evenodd" d="M1492.65 547.61 L1510.45 547.61 L1510.45 565.41 L1492.65 565.41Z M1500.55 555.51h2v2h-2Z"/>
<path fill-rule="evenodd" d="M1545.81 540.52 L1563.61 540.52 L1563.61 558.32 L1545.81 558.32Z M1553.71 548.42h2v2h-2Z"/>
<path fill-rule="evenodd" d="M1598.97 533.35 L1616.77 533.35 L1616.77 551.15 L1598.97 551.15Z M1606.87 541.25h2v2h-2Z"/>
<path fill-rule="evenodd" d="M1652.12 526.12 L1669.92 526.12 L1669.92 543.92 L1652.12 543.92Z M1660.02 534.02h2v2h-2Z"/>
<path fill-rule="evenodd" d="M1705.28 518.82 L1723.08 518.82 L1723.08 536.62 L1705.28 536.62Z M1713.18 526.72h2v2h-2Z"/>
<path fill-rule="evenodd" d="M1758.44 511.45 L1776.24 511.45 L1776.24 529.25 L1758.44 529.25Z M1766.34 519.35h2v2h-2Z"/>
<path fill-rule="evenodd" d="M1811.6 504.01 L1829.4 504.01 L1829.4 521.81 L1811.6 521.81Z M1819.5 511.91h2v2h-2Z"/>
</g>
<g font-family="'Liberation Serif', 'Times New Roman', serif" font-weight="bold" fill="#000">
<g fill="#1b2a5f">
<path d="M1954.1 41 L2081.9 41" fill="none" stroke="#1b2a5f" stroke-width="7.9"/>
<circle cx="2018.3" cy="41" r="10"/>
</g>
<text x="2091" y="52" font-size="42">HG</text>
<text x="2157.3" y="31.85" font-size="34">x</text>
<text x="2157.3" y="72.5" font-size="34">00</text>
<g fill="#fba5dc">
<path d="M1954.1 123.59 L2081.9 123.59" fill="none" stroke="#fba5dc" stroke-width="7.9"/>
<circle cx="2018.3" cy="123.59" r="7.5"/>
</g>
<text x="2091" y="135.5" font-size="42">HG</text>
<text x="2157.3" y="115.35" font-size="34">y</text>
<text x="2157.3" y="156" font-size="34">00</text>
<g fill="#eb4b69">
<path d="M1954.1 206.18 L2081.9 206.18" fill="none" stroke="#eb4b69" stroke-width="7.9"/>
<path d="M2011.11 204.57 L2016.69 198.99 L2025.49 207.79 L2019.91 213.37 Z M2019.91 198.99 L2025.49 204.57 L2016.69 213.37 L2011.11 207.79 Z"/>
</g>
<text x="2091" y="218.5" font-size="42">HG</text>
<text x="2157.3" y="198.35" font-size="34">x</text>
<text x="2157.3" y="239" font-size="34">10</text>
<g fill="#f59e1e">
<path d="M1954.1 288.77 L2081.9 288.77" fill="none" stroke="#f59e1e" stroke-width="7.9"/>
<path d="M2009.4 279.87 L2027.2 279.87 L2027.2 297.67 L2009.4 297.67Z"/>
</g>
<text x="2091" y="299.9" font-size="42">HG</text>
<text x="2157.3" y="279.75" font-size="34">y</text>
<text x="2157.3" y="320.4" font-size="34">10</text>
<g fill="#b2d55c">
<path d="M1954.1 371.36 L2081.9 371.36" fill="none" stroke="#b2d55c" stroke-width="7.9"/>
<path d="M2002.3 371.36 L2026.3 357.5 L2026.3 385.22Z"/>
</g>
<text x="2091" y="383.7" font-size="42">HG</text>
<text x="2157.3" y="363.55" font-size="34">x</text>
<text x="2157.3" y="404.2" font-size="34">01</text>
<g fill="#1288a6">
<path d="M1954.1 453.95 L2081.9 453.95" fill="none" stroke="#1288a6" stroke-width="7.9"/>
<path d="M2018.3 440.15 L2022.28 447.05 L2030.25 447.05 L2026.26 453.95 L2030.25 460.85 L2022.28 460.85 L2018.3 467.75 L2014.32 460.85 L2006.35 460.85 L2010.34 453.95 L2006.35 447.05 L2014.32 447.05Z"/>
</g>
<text x="2091" y="466.8" font-size="42">HG</text>
<text x="2157.3" y="446.65" font-size="34">y</text>
<text x="2157.3" y="487.3" font-size="34">01</text>
<g fill="#d67ffb">
<path d="M1954.1 536.54 L2081.9 536.54" fill="none" stroke="#d67ffb" stroke-width="7.9"/>
<path d="M2018.3 519.04 L2022.83 530.31 L2034.94 531.13 L2025.62 538.92 L2028.59 550.7 L2018.3 544.24 L2008.01 550.7 L2010.98 538.92 L2001.66 531.13 L2013.77 530.31Z"/>
</g>
<text x="2091" y="547.9" font-size="42">HG</text>
<text x="2157.3" y="527.75" font-size="34">x</text>
<text x="2157.3" y="568.4" font-size="34">20</text>
<g fill="#b3326e">
<path d="M1954.1 619.13 L2081.9 619.13" fill="none" stroke="#b3326e" stroke-width="7.5" stroke-dasharray="21.5 18.97"/>
<path fill-rule="evenodd" d="M2018.3 604.93 L2028.7 619.13 L2018.3 633.33 L2007.9 619.13Z M2017.1 617.93h2.4v2.4h-2.4Z"/>
</g>
<text x="2091" y="630.9" font-size="42">HG</text>
<text x="2157.3" y="610.75" font-size="34">y</text>
<text x="2157.3" y="651.4" font-size="34">20</text>
<g fill="#eb5a24">
<path d="M1954.1 701.72 L2081.9 701.72" fill="none" stroke="#eb5a24" stroke-width="7.5" stroke-dasharray="21.5 18.97"/>
<path d="M2014.85 693.42 L2021.75 693.42 L2021.75 698.27 L2026.6 698.27 L2026.6 705.17 L2021.75 705.17 L2021.75 710.02 L2014.85 710.02 L2014.85 705.17 L2010 705.17 L2010 698.27 L2014.85 698.27Z"/>
</g>
<text x="2091" y="712.6" font-size="42">HG</text>
<text x="2157.3" y="692.45" font-size="34">x</text>
<text x="2157.3" y="733.1" font-size="34">11</text>
<g fill="#069634">
<path d="M1954.1 784.31 L2081.9 784.31" fill="none" stroke="#069634" stroke-width="7.5" stroke-dasharray="21.5 18.97"/>
<circle cx="2018.3" cy="784.31" r="6.2" fill="none" stroke="#069634" stroke-width="7.6"/>
</g>
<text x="2091" y="795.3" font-size="42">HG</text>
<text x="2157.3" y="775.15" font-size="34">y</text>
<text x="2157.3" y="815.8" font-size="34">11</text>
<g fill="#0652dc">
<path d="M1954.1 866.9 L2081.9 866.9" fill="none" stroke="#0652dc" stroke-width="7.5" stroke-dasharray="21.5 18.97"/>
<circle cx="2018.3" cy="866.9" r="7.8"/>
</g>
<text x="2091" y="879.3" font-size="42">HG</text>
<text x="2157.3" y="859.15" font-size="34">x</text>
<text x="2157.3" y="899.8" font-size="34">30</text>
<g fill="#9b7ff8">
<path d="M1954.1 949.49 L2081.9 949.49" fill="none" stroke="#9b7ff8" stroke-width="7.5" stroke-dasharray="21.5 18.97"/>
<path d="M2010.91 947.48 L2016.29 942.1 L2025.69 951.5 L2020.31 956.88 Z M2020.31 942.1 L2025.69 947.48 L2016.29 956.88 L2010.91 951.5 Z"/>
</g>
<text x="2091" y="960.3" font-size="42">HG</text>
<text x="2157.3" y="940.15" font-size="34">y</text>
<text x="2157.3" y="980.8" font-size="34">30</text>
<g fill="#843572">
<path d="M1954.1 1032.08 L2081.9 1032.08" fill="none" stroke="#843572" stroke-width="7.5" stroke-dasharray="21.5 18.97"/>
<path fill-rule="evenodd" d="M2009.4 1023.18 L2027.2 1023.18 L2027.2 1040.98 L2009.4 1040.98Z M2017.2 1030.98h2.2v2.2h-2.2Z"/>
</g>
<text x="2091" y="1043.7" font-size="42">HG</text>
<text x="2157.3" y="1023.55" font-size="34">x</text>
<text x="2157.3" y="1064.2" font-size="34">21</text>
<g fill="#e91e25">
<path d="M1954.1 1114.67 L2081.9 1114.67" fill="none" stroke="#e91e25" stroke-width="7.5" stroke-dasharray="21.5 18.97"/>
<path fill-rule="evenodd" d="M2002.3 1114.67 L2026.3 1100.81 L2026.3 1128.53Z M2017.5 1113.87h1.6v1.6h-1.6Z"/>
</g>
<text x="2091" y="1127.5" font-size="42">HG</text>
<text x="2157.3" y="1107.35" font-size="34">y</text>
<text x="2157.3" y="1148" font-size="34">21</text>
<g fill="#006166">
<path d="M1954.1 1197.26 L2081.9 1197.26" fill="none" stroke="#006166" stroke-width="7.5" stroke-dasharray="21.5 18.97"/>
<path d="M2018.3 1183.46 L2022.28 1190.36 L2030.25 1190.36 L2026.26 1197.26 L2030.25 1204.16 L2022.28 1204.16 L2018.3 1211.06 L2014.32 1204.16 L2006.35 1204.16 L2010.34 1197.26 L2006.35 1190.36 L2014.32 1190.36Z"/>
</g>
<text x="2091" y="1208.4" font-size="42">HG</text>
<text x="2157.3" y="1188.25" font-size="34">x</text>
<text x="2157.3" y="1228.9" font-size="34">02</text>
<g fill="#1b1464">
<path d="M1954.1 1279.85 L2081.9 1279.85" fill="none" stroke="#1b1464" stroke-width="7.5" stroke-dasharray="21.5 18.97"/>
<path d="M2018.3 1262.35 L2022.83 1273.62 L2034.94 1274.44 L2025.62 1282.23 L2028.59 1294.01 L2018.3 1287.55 L2008.01 1294.01 L2010.98 1282.23 L2001.66 1274.44 L2013.77 1273.62Z"/>
</g>
<text x="2091" y="1291.8" font-size="42">HG</text>
<text x="2157.3" y="1271.65" font-size="34">y</text>
<text x="2157.3" y="1312.3" font-size="34">02</text>
<g fill="#5558bb">
<path d="M1954.1 1362.44 L2081.9 1362.44" fill="none" stroke="#5558bb" stroke-width="7.0" stroke-dasharray="5.8 4.3"/>
<path fill-rule="evenodd" d="M2018.3 1348.14 L2028.7 1362.44 L2018.3 1376.74 L2007.9 1362.44Z M2017.7 1361.84h1.2v1.2h-1.2Z"/>
</g>
<text x="2091" y="1372.8" font-size="42">HG</text>
<text x="2157.3" y="1352.65" font-size="34">x</text>
<text x="2157.3" y="1393.3" font-size="34">40</text>
<g fill="#6b1c50">
<path d="M1954.1 1445.03 L2081.9 1445.03" fill="none" stroke="#6b1c50" stroke-width="7.0" stroke-dasharray="5.8 4.3"/>
<path d="M2014.85 1436.73 L2021.75 1436.73 L2021.75 1441.58 L2026.6 1441.58 L2026.6 1448.48 L2021.75 1448.48 L2021.75 1453.33 L2014.85 1453.33 L2014.85 1448.48 L2010 1448.48 L2010 1441.58 L2014.85 1441.58Z"/>
</g>
<text x="2091" y="1456.6" font-size="42">HG</text>
<text x="2157.3" y="1436.45" font-size="34">y</text>
<text x="2157.3" y="1477.1" font-size="34">40</text>
<g fill="#5b27cd">
<path d="M1954.1 1527.62 L2081.9 1527.62" fill="none" stroke="#5b27cd" stroke-width="7.0" stroke-dasharray="5.8 4.3"/>
<circle cx="2018.3" cy="1527.62" r="5.75" fill="none" stroke="#5b27cd" stroke-width="8.5"/>
</g>
<text x="2091" y="1539.6" font-size="42">HG</text>
<text x="2157.3" y="1519.45" font-size="34">x</text>
<text x="2157.3" y="1560.1" font-size="34">12</text>
<g fill="#f72a21">
<path d="M1954.1 1610.21 L2081.9 1610.21" fill="none" stroke="#f72a21" stroke-width="7.0" stroke-dasharray="5.8 4.3"/>
<circle cx="2018.3" cy="1610.21" r="7.6"/>
</g>
<text x="2091" y="1620.85" font-size="42">HG</text>
<text x="2157.3" y="1600.7" font-size="34">y</text>
<text x="2157.3" y="1641.35" font-size="34">12</text>
<g fill="#fba465">
<path d="M1954.1 1692.8 L2081.9 1692.8" fill="none" stroke="#fba465" stroke-width="7.0" stroke-dasharray="5.8 4.3"/>
<path d="M2010.77 1690.93 L2016.43 1685.27 L2025.83 1694.67 L2020.17 1700.33 Z M2020.17 1685.27 L2025.83 1690.93 L2016.43 1700.33 L2010.77 1694.67 Z"/>
</g>
<text x="2091" y="1703.9" font-size="42">HG</text>
<text x="2157.3" y="1683.75" font-size="34">x</text>
<text x="2157.3" y="1724.4" font-size="34">31</text>
<g fill="#3d2966">
<path d="M1954.1 1775.39 L2081.9 1775.39" fill="none" stroke="#3d2966" stroke-width="7.0" stroke-dasharray="5.8 4.3"/>
<path fill-rule="evenodd" d="M2009.4 1766.49 L2027.2 1766.49 L2027.2 1784.29 L2009.4 1784.29Z M2017.3 1774.39h2v2h-2Z"/>
</g>
<text x="2091" y="1788.9" font-size="42">HG</text>
<text x="2157.3" y="1768.75" font-size="34">y</text>
<text x="2157.3" y="1809.4" font-size="34">31</text>
</g>
</svg>
</body>
</html>
